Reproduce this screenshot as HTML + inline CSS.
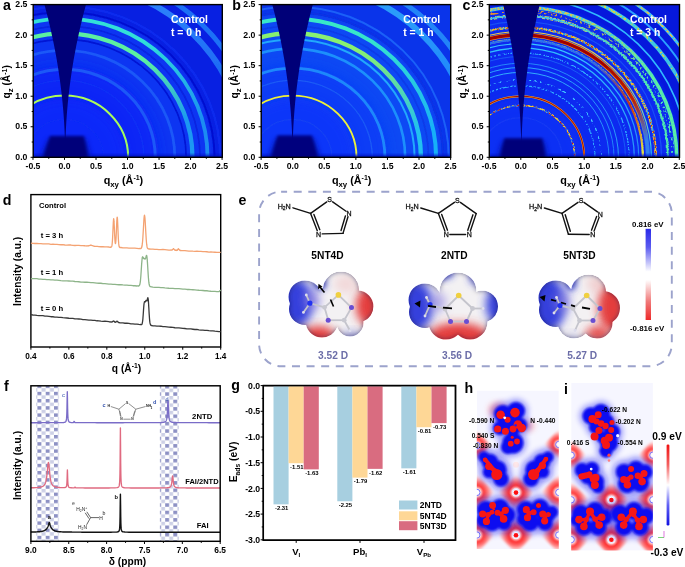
<!DOCTYPE html>
<html><head><meta charset="utf-8"><style>html,body{margin:0;padding:0;background:#fff;overflow:hidden}svg{display:block;will-change:transform}text{font-family:"Liberation Sans", sans-serif}</style></head>
<body><svg width="685" height="567" viewBox="0 0 685 567">
<defs>
<filter id="blur1" x="-20%" y="-20%" width="140%" height="140%"><feGaussianBlur stdDeviation="1.5"/></filter>
<filter id="blur06" x="-20%" y="-20%" width="140%" height="140%"><feGaussianBlur stdDeviation="0.9"/></filter>
<filter id="blur3" x="-50%" y="-50%" width="200%" height="200%"><feGaussianBlur stdDeviation="6"/></filter>
<filter id="blur05" x="-5%" y="-5%" width="110%" height="110%"><feGaussianBlur stdDeviation="0.45"/></filter>
<filter id="spk" x="-5%" y="-5%" width="110%" height="110%"><feTurbulence type="fractalNoise" baseFrequency="0.55" numOctaves="1" seed="7" result="n"/><feColorMatrix in="n" type="matrix" values="0 0 0 0 0  0 0 0 0 0  0 0 0 0 0  0 0 0 9 -4.0" result="m"/><feComposite in="SourceGraphic" in2="m" operator="in"/></filter>
<filter id="spk2" x="-5%" y="-5%" width="110%" height="110%"><feTurbulence type="fractalNoise" baseFrequency="0.45" numOctaves="1" seed="11" result="n"/><feColorMatrix in="n" type="matrix" values="0 0 0 0 0  0 0 0 0 0  0 0 0 0 0  0 0 0 9 -4.6" result="m"/><feComposite in="SourceGraphic" in2="m" operator="in"/></filter>
<filter id="blur3s" x="-20%" y="-20%" width="140%" height="140%"><feGaussianBlur stdDeviation="2.6"/></filter>
<filter id="blur2" x="-10%" y="-10%" width="120%" height="120%"><feGaussianBlur stdDeviation="2.2"/></filter>
</defs>
<clipPath id="clipa"><rect x="33.2" y="4.6" width="189.10000000000002" height="152.70000000000002"/></clipPath>
<g clip-path="url(#clipa)">
<rect x="33.2" y="4.6" width="189.10000000000002" height="152.70000000000002" fill="#0820e2"/>
<ellipse cx="64.5" cy="157.3" rx="148.76" ry="144.15" fill="#0a34f2" opacity="1" filter="url(#blur2)"/>
<ellipse cx="64.5" cy="157.3" rx="94.55" ry="91.62" fill="#0828f6" opacity="1" filter="url(#blur3)"/>
<ellipse cx="64.5" cy="157.3" rx="59.88" ry="58.03" fill="#0a2cfa" opacity="0.8" filter="url(#blur3)"/>
<g filter="url(#blur05)">
<ellipse cx="64.5" cy="157.3" rx="39.08" ry="37.87" fill="none" stroke="#0c2cf6" stroke-width="1.2" />
<linearGradient id="ga101018" gradientUnits="userSpaceOnUse" x1="0" y1="60" x2="0" y2="150"><stop offset="0" stop-color="#b8ff50"/><stop offset="1" stop-color="#a0f860"/></linearGradient>
<ellipse cx="64.5" cy="157.3" rx="63.66" ry="61.69" fill="none" stroke="url(#ga101018)" stroke-width="2.0" />
<ellipse cx="64.5" cy="157.3" rx="79.42" ry="76.96" fill="none" stroke="#0e30f6" stroke-width="1.4" />
<ellipse cx="64.5" cy="157.3" rx="90.77" ry="87.96" fill="none" stroke="#1a58f8" stroke-width="3.0" />
<ellipse cx="64.5" cy="157.3" rx="110.31" ry="106.89" fill="none" stroke="#1a58f8" stroke-width="2.8" />
<ellipse cx="64.5" cy="157.3" rx="121.65" ry="117.88" fill="none" stroke="#0614d4" stroke-width="1.6" />
<ellipse cx="64.5" cy="157.3" rx="135.52" ry="131.32" fill="none" stroke="#0824e0" stroke-width="1.6" />
<ellipse cx="64.5" cy="157.3" rx="150.02" ry="145.37" fill="none" stroke="#0610d0" stroke-width="2.0" />
<linearGradient id="ga202926" gradientUnits="userSpaceOnUse" x1="0" y1="60" x2="0" y2="120"><stop offset="0" stop-color="#5cf0a0"/><stop offset="1" stop-color="#1a98f2"/></linearGradient>
<ellipse cx="64.5" cy="157.3" rx="127.96" ry="123.99" fill="none" stroke="url(#ga202926)" stroke-width="4.3" />
<linearGradient id="ga227028" gradientUnits="userSpaceOnUse" x1="0" y1="40" x2="0" y2="120"><stop offset="0" stop-color="#30e0d8"/><stop offset="1" stop-color="#1a8cf2"/></linearGradient>
<ellipse cx="64.5" cy="157.3" rx="143.09" ry="138.65" fill="none" stroke="url(#ga227028)" stroke-width="3.8" />
<ellipse cx="64.5" cy="157.3" rx="155.69" ry="150.87" fill="none" stroke="#0c2cee" stroke-width="2.2" />
<linearGradient id="ga287031" gradientUnits="userSpaceOnUse" x1="0" y1="10" x2="0" y2="80"><stop offset="0" stop-color="#2a80fa"/><stop offset="1" stop-color="#1c68f4"/></linearGradient>
<ellipse cx="64.5" cy="157.3" rx="180.91" ry="175.30" fill="none" stroke="url(#ga287031)" stroke-width="6.0" />
<ellipse cx="64.5" cy="157.3" rx="194.14" ry="188.13" fill="none" stroke="#1c70f6" stroke-width="5.0" />
</g>
<rect x="33.2" y="154.70000000000002" width="189.10000000000002" height="4" fill="#0612c0" opacity="0.85" filter="url(#blur06)"/>
<polygon points="44.18,3.60 45.21,7.42 46.21,11.23 47.19,15.05 48.15,18.87 49.07,22.69 49.98,26.51 50.85,30.32 51.70,34.14 52.53,37.96 53.32,41.78 54.10,45.59 54.84,49.41 55.56,53.23 56.26,57.05 56.92,60.86 57.57,64.68 58.18,68.50 58.77,72.31 59.34,76.13 59.88,79.95 60.39,83.77 60.87,87.59 61.34,91.40 61.77,95.22 62.18,99.04 62.56,102.86 62.92,106.67 63.25,110.49 63.56,114.31 63.83,118.13 64.09,121.94 64.31,125.76 64.52,129.58 64.69,133.40 64.84,137.21 64.96,141.03 65.06,144.85 65.13,148.66 65.18,152.48 65.20,156.30 65.20,156.30 65.22,152.48 65.27,148.66 65.34,144.85 65.44,141.03 65.56,137.21 65.71,133.40 65.88,129.58 66.09,125.76 66.31,121.94 66.57,118.13 66.84,114.31 67.15,110.49 67.48,106.67 67.84,102.86 68.22,99.04 68.63,95.22 69.06,91.40 69.53,87.59 70.01,83.77 70.52,79.95 71.06,76.13 71.63,72.31 72.22,68.50 72.83,64.68 73.48,60.86 74.14,57.05 74.84,53.23 75.56,49.41 76.30,45.59 77.08,41.78 77.87,37.96 78.70,34.14 79.55,30.32 80.42,26.51 81.33,22.69 82.25,18.87 83.21,15.05 84.19,11.23 85.19,7.42 86.22,3.60" fill="#000078"/>
<polygon points="39.5,159.3 48.0,139.0 86.0,139.0 91.5,159.3" fill="#0612b0" opacity="0.8" filter="url(#blur3s)"/>
<polygon points="42.5,159.3 50.0,136.0 84.0,136.0 88.5,159.3" fill="#00007a" filter="url(#blur1)"/>
</g>
<rect x="33.2" y="4.6" width="189.10000000000002" height="152.70000000000002" fill="none" stroke="#000" stroke-width="1.4"/>
<line x1="32.98" y1="157.30" x2="32.98" y2="159.90" stroke="#000" stroke-width="1" />
<line x1="48.74" y1="157.30" x2="48.74" y2="158.80" stroke="#000" stroke-width="1" />
<line x1="64.50" y1="157.30" x2="64.50" y2="159.90" stroke="#000" stroke-width="1" />
<line x1="80.26" y1="157.30" x2="80.26" y2="158.80" stroke="#000" stroke-width="1" />
<line x1="96.02" y1="157.30" x2="96.02" y2="159.90" stroke="#000" stroke-width="1" />
<line x1="111.78" y1="157.30" x2="111.78" y2="158.80" stroke="#000" stroke-width="1" />
<line x1="127.53" y1="157.30" x2="127.53" y2="159.90" stroke="#000" stroke-width="1" />
<line x1="143.29" y1="157.30" x2="143.29" y2="158.80" stroke="#000" stroke-width="1" />
<line x1="159.05" y1="157.30" x2="159.05" y2="159.90" stroke="#000" stroke-width="1" />
<line x1="174.81" y1="157.30" x2="174.81" y2="158.80" stroke="#000" stroke-width="1" />
<line x1="190.57" y1="157.30" x2="190.57" y2="159.90" stroke="#000" stroke-width="1" />
<line x1="206.33" y1="157.30" x2="206.33" y2="158.80" stroke="#000" stroke-width="1" />
<line x1="222.08" y1="157.30" x2="222.08" y2="159.90" stroke="#000" stroke-width="1" />
<line x1="30.60" y1="157.30" x2="33.20" y2="157.30" stroke="#000" stroke-width="1" />
<line x1="31.70" y1="142.03" x2="33.20" y2="142.03" stroke="#000" stroke-width="1" />
<line x1="30.60" y1="126.76" x2="33.20" y2="126.76" stroke="#000" stroke-width="1" />
<line x1="31.70" y1="111.49" x2="33.20" y2="111.49" stroke="#000" stroke-width="1" />
<line x1="30.60" y1="96.22" x2="33.20" y2="96.22" stroke="#000" stroke-width="1" />
<line x1="31.70" y1="80.95" x2="33.20" y2="80.95" stroke="#000" stroke-width="1" />
<line x1="30.60" y1="65.68" x2="33.20" y2="65.68" stroke="#000" stroke-width="1" />
<line x1="31.70" y1="50.41" x2="33.20" y2="50.41" stroke="#000" stroke-width="1" />
<line x1="30.60" y1="35.14" x2="33.20" y2="35.14" stroke="#000" stroke-width="1" />
<line x1="31.70" y1="19.87" x2="33.20" y2="19.87" stroke="#000" stroke-width="1" />
<line x1="30.60" y1="4.60" x2="33.20" y2="4.60" stroke="#000" stroke-width="1" />
<text x="32.98" y="169.20" font-size="8.7" font-weight="bold" fill="#000" text-anchor="middle" >-0.5</text>
<text x="64.50" y="169.20" font-size="8.7" font-weight="bold" fill="#000" text-anchor="middle" >0.0</text>
<text x="96.02" y="169.20" font-size="8.7" font-weight="bold" fill="#000" text-anchor="middle" >0.5</text>
<text x="127.53" y="169.20" font-size="8.7" font-weight="bold" fill="#000" text-anchor="middle" >1.0</text>
<text x="159.05" y="169.20" font-size="8.7" font-weight="bold" fill="#000" text-anchor="middle" >1.5</text>
<text x="190.57" y="169.20" font-size="8.7" font-weight="bold" fill="#000" text-anchor="middle" >2.0</text>
<text x="222.08" y="169.20" font-size="8.7" font-weight="bold" fill="#000" text-anchor="middle" >2.5</text>
<text x="27.40" y="159.90" font-size="8.7" font-weight="bold" fill="#000" text-anchor="end" >0.0</text>
<text x="27.40" y="129.36" font-size="8.7" font-weight="bold" fill="#000" text-anchor="end" >0.5</text>
<text x="27.40" y="98.82" font-size="8.7" font-weight="bold" fill="#000" text-anchor="end" >1.0</text>
<text x="27.40" y="68.28" font-size="8.7" font-weight="bold" fill="#000" text-anchor="end" >1.5</text>
<text x="27.40" y="37.74" font-size="8.7" font-weight="bold" fill="#000" text-anchor="end" >2.0</text>
<text x="27.40" y="7.20" font-size="8.7" font-weight="bold" fill="#000" text-anchor="end" >2.5</text>
<text x="123.45" y="183.90" font-size="10.8" font-weight="bold" text-anchor="middle">q<tspan font-size="7.8" dy="2.6">xy</tspan><tspan dy="-2.6"> (Å</tspan><tspan font-size="7" dy="-3.6">-1</tspan><tspan dy="3.6">)</tspan></text>
<text transform="translate(10.20,81.85) rotate(-90)" x="0" y="0" font-size="10.2" font-weight="bold" text-anchor="middle">q<tspan font-size="7.8" dy="2.6">z</tspan><tspan dy="-2.6"> (Å</tspan><tspan font-size="7" dy="-3.6">-1</tspan><tspan dy="3.6">)</tspan></text>
<text x="171.00" y="23.00" font-size="10.4" font-weight="bold" fill="#fff" text-anchor="start" >Control</text>
<text x="171.00" y="35.70" font-size="10.4" font-weight="bold" fill="#fff" text-anchor="start" >t = 0 h</text>
<clipPath id="clipb"><rect x="261.2" y="4.6" width="189.5" height="152.70000000000002"/></clipPath>
<g clip-path="url(#clipb)">
<rect x="261.2" y="4.6" width="189.5" height="152.70000000000002" fill="#0a34ea"/>
<ellipse cx="292.7" cy="157.3" rx="149.07" ry="144.15" fill="#0c48f4" opacity="1" filter="url(#blur2)"/>
<ellipse cx="292.7" cy="157.3" rx="94.75" ry="91.62" fill="#0a3cf6" opacity="1" filter="url(#blur3)"/>
<ellipse cx="292.7" cy="157.3" rx="60.01" ry="58.03" fill="#0c34fa" opacity="0.8" filter="url(#blur3)"/>
<g filter="url(#blur05)">
<ellipse cx="292.7" cy="157.3" rx="39.16" ry="37.87" fill="none" stroke="#1440f4" stroke-width="1.2" />
<linearGradient id="gb101090" gradientUnits="userSpaceOnUse" x1="0" y1="60" x2="0" y2="150"><stop offset="0" stop-color="#f4f030"/><stop offset="1" stop-color="#e8f040"/></linearGradient>
<ellipse cx="292.7" cy="157.3" rx="63.80" ry="61.69" fill="none" stroke="url(#gb101090)" stroke-width="1.9" />
<ellipse cx="292.7" cy="157.3" rx="79.59" ry="76.96" fill="none" stroke="#1a5af6" stroke-width="1.3" />
<ellipse cx="292.7" cy="157.3" rx="92.22" ry="89.18" fill="none" stroke="#1c88fc" stroke-width="2.8" />
<ellipse cx="292.7" cy="157.3" rx="112.44" ry="108.72" fill="none" stroke="#1c90fc" stroke-width="2.6" />
<ellipse cx="292.7" cy="157.3" rx="121.91" ry="117.88" fill="none" stroke="#20a8fc" stroke-width="2.0" />
<ellipse cx="292.7" cy="157.3" rx="135.81" ry="131.32" fill="none" stroke="#0c3ae8" stroke-width="1.6" />
<ellipse cx="292.7" cy="157.3" rx="150.34" ry="145.37" fill="none" stroke="#0a30e4" stroke-width="2.0" />
<linearGradient id="gb202998" gradientUnits="userSpaceOnUse" x1="0" y1="50" x2="0" y2="130"><stop offset="0" stop-color="#88f070"/><stop offset="1" stop-color="#20c0f0"/></linearGradient>
<ellipse cx="292.7" cy="157.3" rx="128.23" ry="123.99" fill="none" stroke="url(#gb202998)" stroke-width="4.4" />
<linearGradient id="gb2270100" gradientUnits="userSpaceOnUse" x1="0" y1="30" x2="0" y2="130"><stop offset="0" stop-color="#38e8c8"/><stop offset="1" stop-color="#18b0f8"/></linearGradient>
<ellipse cx="292.7" cy="157.3" rx="143.39" ry="138.65" fill="none" stroke="url(#gb2270100)" stroke-width="4.0" />
<ellipse cx="292.7" cy="157.3" rx="156.02" ry="150.87" fill="none" stroke="#1a60f8" stroke-width="2.0" />
<linearGradient id="gb2870103" gradientUnits="userSpaceOnUse" x1="0" y1="20" x2="0" y2="100"><stop offset="0" stop-color="#2a9cfa"/><stop offset="1" stop-color="#1c80fc"/></linearGradient>
<ellipse cx="292.7" cy="157.3" rx="181.29" ry="175.30" fill="none" stroke="url(#gb2870103)" stroke-width="6.0" />
<ellipse cx="292.7" cy="157.3" rx="194.55" ry="188.13" fill="none" stroke="#2484f8" stroke-width="5.0" />
</g>
<rect x="261.2" y="154.70000000000002" width="189.5" height="4" fill="#0612c0" opacity="0.85" filter="url(#blur06)"/>
<polygon points="272.03,3.60 273.04,7.42 274.02,11.23 274.98,15.05 275.91,18.87 276.81,22.69 277.69,26.51 278.55,30.32 279.38,34.14 280.18,37.96 280.96,41.78 281.71,45.59 282.44,49.41 283.14,53.23 283.82,57.05 284.47,60.86 285.10,64.68 285.70,68.50 286.28,72.31 286.83,76.13 287.35,79.95 287.85,83.77 288.33,87.59 288.78,91.40 289.20,95.22 289.60,99.04 289.98,102.86 290.32,106.67 290.65,110.49 290.94,114.31 291.22,118.13 291.46,121.94 291.69,125.76 291.88,129.58 292.05,133.40 292.20,137.21 292.32,141.03 292.42,144.85 292.49,148.66 292.53,152.48 292.55,156.30 292.55,156.30 292.57,152.48 292.61,148.66 292.68,144.85 292.78,141.03 292.90,137.21 293.05,133.40 293.22,129.58 293.41,125.76 293.64,121.94 293.88,118.13 294.16,114.31 294.45,110.49 294.78,106.67 295.12,102.86 295.50,99.04 295.90,95.22 296.32,91.40 296.77,87.59 297.25,83.77 297.75,79.95 298.27,76.13 298.82,72.31 299.40,68.50 300.00,64.68 300.63,60.86 301.28,57.05 301.96,53.23 302.66,49.41 303.39,45.59 304.14,41.78 304.92,37.96 305.72,34.14 306.55,30.32 307.41,26.51 308.29,22.69 309.19,18.87 310.12,15.05 311.08,11.23 312.06,7.42 313.07,3.60" fill="#000078"/>
<polygon points="267.5,159.3 275.5,138.5 314,138.5 321.5,159.3" fill="#0612b0" opacity="0.8" filter="url(#blur3s)"/>
<polygon points="270.5,159.3 277.5,135.5 312,135.5 318.5,159.3" fill="#02027e" filter="url(#blur1)"/>
</g>
<rect x="261.2" y="4.6" width="189.5" height="152.70000000000002" fill="none" stroke="#000" stroke-width="1.4"/>
<line x1="261.12" y1="157.30" x2="261.12" y2="159.90" stroke="#000" stroke-width="1" />
<line x1="276.91" y1="157.30" x2="276.91" y2="158.80" stroke="#000" stroke-width="1" />
<line x1="292.70" y1="157.30" x2="292.70" y2="159.90" stroke="#000" stroke-width="1" />
<line x1="308.49" y1="157.30" x2="308.49" y2="158.80" stroke="#000" stroke-width="1" />
<line x1="324.28" y1="157.30" x2="324.28" y2="159.90" stroke="#000" stroke-width="1" />
<line x1="340.07" y1="157.30" x2="340.07" y2="158.80" stroke="#000" stroke-width="1" />
<line x1="355.87" y1="157.30" x2="355.87" y2="159.90" stroke="#000" stroke-width="1" />
<line x1="371.66" y1="157.30" x2="371.66" y2="158.80" stroke="#000" stroke-width="1" />
<line x1="387.45" y1="157.30" x2="387.45" y2="159.90" stroke="#000" stroke-width="1" />
<line x1="403.24" y1="157.30" x2="403.24" y2="158.80" stroke="#000" stroke-width="1" />
<line x1="419.03" y1="157.30" x2="419.03" y2="159.90" stroke="#000" stroke-width="1" />
<line x1="434.82" y1="157.30" x2="434.82" y2="158.80" stroke="#000" stroke-width="1" />
<line x1="450.62" y1="157.30" x2="450.62" y2="159.90" stroke="#000" stroke-width="1" />
<line x1="258.60" y1="157.30" x2="261.20" y2="157.30" stroke="#000" stroke-width="1" />
<line x1="259.70" y1="142.03" x2="261.20" y2="142.03" stroke="#000" stroke-width="1" />
<line x1="258.60" y1="126.76" x2="261.20" y2="126.76" stroke="#000" stroke-width="1" />
<line x1="259.70" y1="111.49" x2="261.20" y2="111.49" stroke="#000" stroke-width="1" />
<line x1="258.60" y1="96.22" x2="261.20" y2="96.22" stroke="#000" stroke-width="1" />
<line x1="259.70" y1="80.95" x2="261.20" y2="80.95" stroke="#000" stroke-width="1" />
<line x1="258.60" y1="65.68" x2="261.20" y2="65.68" stroke="#000" stroke-width="1" />
<line x1="259.70" y1="50.41" x2="261.20" y2="50.41" stroke="#000" stroke-width="1" />
<line x1="258.60" y1="35.14" x2="261.20" y2="35.14" stroke="#000" stroke-width="1" />
<line x1="259.70" y1="19.87" x2="261.20" y2="19.87" stroke="#000" stroke-width="1" />
<line x1="258.60" y1="4.60" x2="261.20" y2="4.60" stroke="#000" stroke-width="1" />
<text x="261.12" y="169.20" font-size="8.7" font-weight="bold" fill="#000" text-anchor="middle" >-0.5</text>
<text x="292.70" y="169.20" font-size="8.7" font-weight="bold" fill="#000" text-anchor="middle" >0.0</text>
<text x="324.28" y="169.20" font-size="8.7" font-weight="bold" fill="#000" text-anchor="middle" >0.5</text>
<text x="355.87" y="169.20" font-size="8.7" font-weight="bold" fill="#000" text-anchor="middle" >1.0</text>
<text x="387.45" y="169.20" font-size="8.7" font-weight="bold" fill="#000" text-anchor="middle" >1.5</text>
<text x="419.03" y="169.20" font-size="8.7" font-weight="bold" fill="#000" text-anchor="middle" >2.0</text>
<text x="450.62" y="169.20" font-size="8.7" font-weight="bold" fill="#000" text-anchor="middle" >2.5</text>
<text x="255.40" y="159.90" font-size="8.7" font-weight="bold" fill="#000" text-anchor="end" >0.0</text>
<text x="255.40" y="129.36" font-size="8.7" font-weight="bold" fill="#000" text-anchor="end" >0.5</text>
<text x="255.40" y="98.82" font-size="8.7" font-weight="bold" fill="#000" text-anchor="end" >1.0</text>
<text x="255.40" y="68.28" font-size="8.7" font-weight="bold" fill="#000" text-anchor="end" >1.5</text>
<text x="255.40" y="37.74" font-size="8.7" font-weight="bold" fill="#000" text-anchor="end" >2.0</text>
<text x="255.40" y="7.20" font-size="8.7" font-weight="bold" fill="#000" text-anchor="end" >2.5</text>
<text x="351.65" y="183.90" font-size="10.8" font-weight="bold" text-anchor="middle">q<tspan font-size="7.8" dy="2.6">xy</tspan><tspan dy="-2.6"> (Å</tspan><tspan font-size="7" dy="-3.6">-1</tspan><tspan dy="3.6">)</tspan></text>
<text transform="translate(238.20,81.85) rotate(-90)" x="0" y="0" font-size="10.2" font-weight="bold" text-anchor="middle">q<tspan font-size="7.8" dy="2.6">z</tspan><tspan dy="-2.6"> (Å</tspan><tspan font-size="7" dy="-3.6">-1</tspan><tspan dy="3.6">)</tspan></text>
<text x="403.20" y="23.00" font-size="10.4" font-weight="bold" fill="#fff" text-anchor="start" >Control</text>
<text x="403.20" y="35.70" font-size="10.4" font-weight="bold" fill="#fff" text-anchor="start" >t = 1 h</text>
<clipPath id="clipc"><rect x="489.3" y="4.6" width="190.2" height="152.70000000000002"/></clipPath>
<g clip-path="url(#clipc)">
<rect x="489.3" y="4.6" width="190.2" height="152.70000000000002" fill="#0618dc"/>
<ellipse cx="520.8" cy="157.3" rx="158.50" ry="152.70" fill="#0a2af0" opacity="1" filter="url(#blur2)"/>
<ellipse cx="520.8" cy="157.3" rx="60.23" ry="58.03" fill="#0c30f6" opacity="0.8" filter="url(#blur3)"/>
<g filter="url(#blur05)">
<ellipse cx="520.8" cy="157.3" rx="41.21" ry="39.70" fill="none" stroke="#1438f4" stroke-width="1.4" />
<ellipse cx="520.8" cy="157.3" rx="53.89" ry="51.92" fill="none" stroke="#2a80f4" stroke-width="1.0" />
<ellipse cx="520.8" cy="157.3" rx="53.89" ry="51.92" fill="none" stroke="#f0d030" stroke-width="1.6" filter="url(#spk)"/>
<ellipse cx="520.8" cy="157.3" rx="53.89" ry="51.92" fill="none" stroke="#d01010" stroke-width="1.0" filter="url(#spk2)"/>
<ellipse cx="520.8" cy="157.3" rx="63.40" ry="61.08" fill="none" stroke="#f0b020" stroke-width="2.0" />
<ellipse cx="520.8" cy="157.3" rx="63.40" ry="61.08" fill="none" stroke="#b00800" stroke-width="1.1" />
<ellipse cx="520.8" cy="157.3" rx="74.18" ry="71.46" fill="none" stroke="#30b0ff" stroke-width="1.3" filter="url(#spk)"/>
<ellipse cx="520.8" cy="157.3" rx="80.52" ry="77.57" fill="none" stroke="#40c8ff" stroke-width="1.3" filter="url(#spk2)"/>
<linearGradient id="gc1390168" gradientUnits="userSpaceOnUse" x1="0" y1="40" x2="0" y2="150"><stop offset="0" stop-color="#38c0ff"/><stop offset="1" stop-color="#2080f8"/></linearGradient>
<ellipse cx="520.8" cy="157.3" rx="88.13" ry="84.90" fill="none" stroke="url(#gc1390168)" stroke-width="1.0" />
<linearGradient id="gc1470170" gradientUnits="userSpaceOnUse" x1="0" y1="40" x2="0" y2="150"><stop offset="0" stop-color="#30b0ff"/><stop offset="1" stop-color="#2080f8"/></linearGradient>
<ellipse cx="520.8" cy="157.3" rx="93.20" ry="89.79" fill="none" stroke="url(#gc1470170)" stroke-width="1.0" />
<linearGradient id="gc1540172" gradientUnits="userSpaceOnUse" x1="0" y1="40" x2="0" y2="150"><stop offset="0" stop-color="#2480fa"/><stop offset="1" stop-color="#28a0f8"/></linearGradient>
<ellipse cx="520.8" cy="157.3" rx="97.64" ry="94.06" fill="none" stroke="url(#gc1540172)" stroke-width="1.0" />
<ellipse cx="520.8" cy="157.3" rx="104.61" ry="100.78" fill="none" stroke="#1a60f6" stroke-width="0.9" />
<ellipse cx="520.8" cy="157.3" rx="108.41" ry="104.45" fill="none" stroke="#30b0ff" stroke-width="1.3" filter="url(#spk)"/>
<linearGradient id="gc1790176" gradientUnits="userSpaceOnUse" x1="0" y1="30" x2="0" y2="150"><stop offset="0" stop-color="#30c8ff"/><stop offset="1" stop-color="#2898f8"/></linearGradient>
<ellipse cx="520.8" cy="157.3" rx="113.49" ry="109.33" fill="none" stroke="url(#gc1790176)" stroke-width="1.2" />
<linearGradient id="gc1860178" gradientUnits="userSpaceOnUse" x1="0" y1="30" x2="0" y2="150"><stop offset="0" stop-color="#38d0ff"/><stop offset="1" stop-color="#2488f8"/></linearGradient>
<ellipse cx="520.8" cy="157.3" rx="117.92" ry="113.61" fill="none" stroke="url(#gc1860178)" stroke-width="1.2" />
<ellipse cx="520.8" cy="157.3" rx="122.36" ry="117.88" fill="none" stroke="#30b0f0" stroke-width="1.2" />
<linearGradient id="gc1930181" gradientUnits="userSpaceOnUse" x1="0" y1="40" x2="0" y2="150"><stop offset="0" stop-color="#f0e040"/><stop offset="1" stop-color="#e8c040"/></linearGradient>
<ellipse cx="520.8" cy="157.3" rx="122.36" ry="117.88" fill="none" stroke="url(#gc1930181)" stroke-width="2.0" filter="url(#spk)"/>
<linearGradient id="gc1925183" gradientUnits="userSpaceOnUse" x1="0" y1="60" x2="0" y2="150"><stop offset="0" stop-color="#2a70f0"/><stop offset="0.5" stop-color="#c83010"/><stop offset="1" stop-color="#e0e040"/></linearGradient>
<ellipse cx="520.8" cy="157.3" rx="122.05" ry="117.58" fill="none" stroke="url(#gc1925183)" stroke-width="2.0" />
<linearGradient id="gc2005185" gradientUnits="userSpaceOnUse" x1="0" y1="60" x2="0" y2="140"><stop offset="0" stop-color="#f0a020"/><stop offset="0.5" stop-color="#e0b030"/><stop offset="1" stop-color="#2a70f0"/></linearGradient>
<ellipse cx="520.8" cy="157.3" rx="127.12" ry="122.47" fill="none" stroke="url(#gc2005185)" stroke-width="4.4" />
<linearGradient id="gc2005187" gradientUnits="userSpaceOnUse" x1="0" y1="60" x2="0" y2="140"><stop offset="0" stop-color="#a00000"/><stop offset="0.5" stop-color="#c02008"/><stop offset="1" stop-color="#3080f0"/></linearGradient>
<ellipse cx="520.8" cy="157.3" rx="127.12" ry="122.47" fill="none" stroke="url(#gc2005187)" stroke-width="3.1" />
<linearGradient id="gc2060189" gradientUnits="userSpaceOnUse" x1="0" y1="60" x2="0" y2="150"><stop offset="0" stop-color="#f0d040"/><stop offset="1" stop-color="#30c8f0"/></linearGradient>
<ellipse cx="520.8" cy="157.3" rx="130.60" ry="125.82" fill="none" stroke="url(#gc2060189)" stroke-width="1.2" />
<ellipse cx="520.8" cy="157.3" rx="135.04" ry="130.10" fill="none" stroke="#30b0f0" stroke-width="1.6" />
<ellipse cx="520.8" cy="157.3" rx="135.04" ry="130.10" fill="none" stroke="#f0c030" stroke-width="2.6" filter="url(#spk)"/>
<ellipse cx="520.8" cy="157.3" rx="135.04" ry="130.10" fill="none" stroke="#c03010" stroke-width="1.4" filter="url(#spk2)"/>
<ellipse cx="520.8" cy="157.3" rx="140.75" ry="135.60" fill="none" stroke="#1a50f4" stroke-width="1.2" />
<linearGradient id="gc2320195" gradientUnits="userSpaceOnUse" x1="549.3" y1="0" x2="639.3" y2="100"><stop offset="0" stop-color="#f0d040"/><stop offset="1" stop-color="#40e8b0"/></linearGradient>
<ellipse cx="520.8" cy="157.3" rx="147.09" ry="141.71" fill="none" stroke="url(#gc2320195)" stroke-width="3.2" filter="url(#spk)"/>
<linearGradient id="gc2320197" gradientUnits="userSpaceOnUse" x1="549.3" y1="0" x2="639.3" y2="100"><stop offset="0" stop-color="#40c0f0"/><stop offset="1" stop-color="#50e8b0"/></linearGradient>
<ellipse cx="520.8" cy="157.3" rx="147.09" ry="141.71" fill="none" stroke="url(#gc2320197)" stroke-width="1.6" />
<linearGradient id="gc2400199" gradientUnits="userSpaceOnUse" x1="549.3" y1="0" x2="639.3" y2="100"><stop offset="0" stop-color="#e09030"/><stop offset="1" stop-color="#48e0b8"/></linearGradient>
<ellipse cx="520.8" cy="157.3" rx="152.16" ry="146.59" fill="none" stroke="url(#gc2400199)" stroke-width="3.0" filter="url(#spk2)"/>
<linearGradient id="gc2460201" gradientUnits="userSpaceOnUse" x1="549.3" y1="0" x2="639.3" y2="100"><stop offset="0" stop-color="#40c0f0"/><stop offset="1" stop-color="#50e8b0"/></linearGradient>
<ellipse cx="520.8" cy="157.3" rx="155.96" ry="150.26" fill="none" stroke="url(#gc2460201)" stroke-width="3.5" />
<linearGradient id="gc2460203" gradientUnits="userSpaceOnUse" x1="549.3" y1="0" x2="639.3" y2="100"><stop offset="0" stop-color="#f0c040"/><stop offset="1" stop-color="#60f0a0"/></linearGradient>
<ellipse cx="520.8" cy="157.3" rx="155.96" ry="150.26" fill="none" stroke="url(#gc2460203)" stroke-width="2.5" filter="url(#spk)"/>
<ellipse cx="520.8" cy="157.3" rx="166.11" ry="160.03" fill="none" stroke="#30b8ff" stroke-width="1.6" />
<linearGradient id="gc2800206" gradientUnits="userSpaceOnUse" x1="0" y1="10" x2="0" y2="120"><stop offset="0" stop-color="#40d0e0"/><stop offset="1" stop-color="#30b0f0"/></linearGradient>
<ellipse cx="520.8" cy="157.3" rx="177.52" ry="171.02" fill="none" stroke="url(#gc2800206)" stroke-width="3.5" />
<ellipse cx="520.8" cy="157.3" rx="177.52" ry="171.02" fill="none" stroke="#e0d040" stroke-width="2.0" filter="url(#spk2)"/>
<ellipse cx="520.8" cy="157.3" rx="187.03" ry="180.19" fill="none" stroke="#2aa0ff" stroke-width="2.0" />
<ellipse cx="520.8" cy="157.3" rx="196.54" ry="189.35" fill="none" stroke="#38c0ff" stroke-width="3.0" />
<ellipse cx="520.8" cy="157.3" rx="196.54" ry="189.35" fill="none" stroke="#f0c040" stroke-width="1.5" filter="url(#spk)"/>
</g>
<rect x="489.3" y="154.70000000000002" width="190.2" height="4" fill="#0612c0" opacity="0.85" filter="url(#blur06)"/>
<polygon points="502.86,3.60 503.77,7.42 504.66,11.23 505.52,15.05 506.36,18.87 507.18,22.69 507.97,26.51 508.75,30.32 509.50,34.14 510.22,37.96 510.93,41.78 511.61,45.59 512.26,49.41 512.90,53.23 513.51,57.05 514.10,60.86 514.67,64.68 515.21,68.50 515.73,72.31 516.23,76.13 516.70,79.95 517.16,83.77 517.59,87.59 517.99,91.40 518.38,95.22 518.74,99.04 519.07,102.86 519.39,106.67 519.68,110.49 519.95,114.31 520.20,118.13 520.42,121.94 520.62,125.76 520.80,129.58 520.95,133.40 521.08,137.21 521.19,141.03 521.28,144.85 521.34,148.66 521.38,152.48 521.40,156.30 521.40,156.30 521.42,152.48 521.46,148.66 521.52,144.85 521.61,141.03 521.72,137.21 521.85,133.40 522.00,129.58 522.18,125.76 522.38,121.94 522.60,118.13 522.85,114.31 523.12,110.49 523.41,106.67 523.73,102.86 524.06,99.04 524.42,95.22 524.81,91.40 525.21,87.59 525.64,83.77 526.10,79.95 526.57,76.13 527.07,72.31 527.59,68.50 528.13,64.68 528.70,60.86 529.29,57.05 529.90,53.23 530.54,49.41 531.19,45.59 531.87,41.78 532.58,37.96 533.30,34.14 534.05,30.32 534.83,26.51 535.62,22.69 536.44,18.87 537.28,15.05 538.14,11.23 539.03,7.42 539.94,3.60" fill="#000078"/>
<polygon points="496.5,159.3 502.3,141.3 544.3,141.3 549.0,159.3" fill="#0612b0" opacity="0.8" filter="url(#blur3s)"/>
<polygon points="499.5,159.3 504.3,138.3 542.3,138.3 546.0,159.3" fill="#00007a" filter="url(#blur1)"/>
</g>
<rect x="489.3" y="4.6" width="190.2" height="152.70000000000002" fill="none" stroke="#000" stroke-width="1.4"/>
<line x1="489.10" y1="157.30" x2="489.10" y2="159.90" stroke="#000" stroke-width="1" />
<line x1="504.95" y1="157.30" x2="504.95" y2="158.80" stroke="#000" stroke-width="1" />
<line x1="520.80" y1="157.30" x2="520.80" y2="159.90" stroke="#000" stroke-width="1" />
<line x1="536.65" y1="157.30" x2="536.65" y2="158.80" stroke="#000" stroke-width="1" />
<line x1="552.50" y1="157.30" x2="552.50" y2="159.90" stroke="#000" stroke-width="1" />
<line x1="568.35" y1="157.30" x2="568.35" y2="158.80" stroke="#000" stroke-width="1" />
<line x1="584.20" y1="157.30" x2="584.20" y2="159.90" stroke="#000" stroke-width="1" />
<line x1="600.05" y1="157.30" x2="600.05" y2="158.80" stroke="#000" stroke-width="1" />
<line x1="615.90" y1="157.30" x2="615.90" y2="159.90" stroke="#000" stroke-width="1" />
<line x1="631.75" y1="157.30" x2="631.75" y2="158.80" stroke="#000" stroke-width="1" />
<line x1="647.60" y1="157.30" x2="647.60" y2="159.90" stroke="#000" stroke-width="1" />
<line x1="663.45" y1="157.30" x2="663.45" y2="158.80" stroke="#000" stroke-width="1" />
<line x1="679.30" y1="157.30" x2="679.30" y2="159.90" stroke="#000" stroke-width="1" />
<line x1="486.70" y1="157.30" x2="489.30" y2="157.30" stroke="#000" stroke-width="1" />
<line x1="487.80" y1="142.03" x2="489.30" y2="142.03" stroke="#000" stroke-width="1" />
<line x1="486.70" y1="126.76" x2="489.30" y2="126.76" stroke="#000" stroke-width="1" />
<line x1="487.80" y1="111.49" x2="489.30" y2="111.49" stroke="#000" stroke-width="1" />
<line x1="486.70" y1="96.22" x2="489.30" y2="96.22" stroke="#000" stroke-width="1" />
<line x1="487.80" y1="80.95" x2="489.30" y2="80.95" stroke="#000" stroke-width="1" />
<line x1="486.70" y1="65.68" x2="489.30" y2="65.68" stroke="#000" stroke-width="1" />
<line x1="487.80" y1="50.41" x2="489.30" y2="50.41" stroke="#000" stroke-width="1" />
<line x1="486.70" y1="35.14" x2="489.30" y2="35.14" stroke="#000" stroke-width="1" />
<line x1="487.80" y1="19.87" x2="489.30" y2="19.87" stroke="#000" stroke-width="1" />
<line x1="486.70" y1="4.60" x2="489.30" y2="4.60" stroke="#000" stroke-width="1" />
<text x="489.10" y="169.20" font-size="8.7" font-weight="bold" fill="#000" text-anchor="middle" >-0.5</text>
<text x="520.80" y="169.20" font-size="8.7" font-weight="bold" fill="#000" text-anchor="middle" >0.0</text>
<text x="552.50" y="169.20" font-size="8.7" font-weight="bold" fill="#000" text-anchor="middle" >0.5</text>
<text x="584.20" y="169.20" font-size="8.7" font-weight="bold" fill="#000" text-anchor="middle" >1.0</text>
<text x="615.90" y="169.20" font-size="8.7" font-weight="bold" fill="#000" text-anchor="middle" >1.5</text>
<text x="647.60" y="169.20" font-size="8.7" font-weight="bold" fill="#000" text-anchor="middle" >2.0</text>
<text x="679.30" y="169.20" font-size="8.7" font-weight="bold" fill="#000" text-anchor="middle" >2.5</text>
<text x="483.50" y="159.90" font-size="8.7" font-weight="bold" fill="#000" text-anchor="end" >0.0</text>
<text x="483.50" y="129.36" font-size="8.7" font-weight="bold" fill="#000" text-anchor="end" >0.5</text>
<text x="483.50" y="98.82" font-size="8.7" font-weight="bold" fill="#000" text-anchor="end" >1.0</text>
<text x="483.50" y="68.28" font-size="8.7" font-weight="bold" fill="#000" text-anchor="end" >1.5</text>
<text x="483.50" y="37.74" font-size="8.7" font-weight="bold" fill="#000" text-anchor="end" >2.0</text>
<text x="483.50" y="7.20" font-size="8.7" font-weight="bold" fill="#000" text-anchor="end" >2.5</text>
<text x="580.10" y="183.90" font-size="10.8" font-weight="bold" text-anchor="middle">q<tspan font-size="7.8" dy="2.6">xy</tspan><tspan dy="-2.6"> (Å</tspan><tspan font-size="7" dy="-3.6">-1</tspan><tspan dy="3.6">)</tspan></text>
<text transform="translate(466.30,81.85) rotate(-90)" x="0" y="0" font-size="10.2" font-weight="bold" text-anchor="middle">q<tspan font-size="7.8" dy="2.6">z</tspan><tspan dy="-2.6"> (Å</tspan><tspan font-size="7" dy="-3.6">-1</tspan><tspan dy="3.6">)</tspan></text>
<text x="630.00" y="23.00" font-size="10.4" font-weight="bold" fill="#fff" text-anchor="start" >Control</text>
<text x="630.00" y="35.70" font-size="10.4" font-weight="bold" fill="#fff" text-anchor="start" >t = 3 h</text>
<text x="3.00" y="9.90" font-size="14.2" font-weight="bold" fill="#000" text-anchor="start" >a</text>
<text x="232.20" y="9.90" font-size="14.2" font-weight="bold" fill="#000" text-anchor="start" >b</text>
<text x="462.40" y="9.90" font-size="14.2" font-weight="bold" fill="#000" text-anchor="start" >c</text>
<rect x="30.9" y="194.6" width="189.79999999999998" height="152.4" fill="none" stroke="#000" stroke-width="1.4"/>
<line x1="30.90" y1="347.00" x2="30.90" y2="349.70" stroke="#000" stroke-width="1" />
<line x1="49.88" y1="347.00" x2="49.88" y2="348.60" stroke="#000" stroke-width="1" />
<line x1="68.86" y1="347.00" x2="68.86" y2="349.70" stroke="#000" stroke-width="1" />
<line x1="87.84" y1="347.00" x2="87.84" y2="348.60" stroke="#000" stroke-width="1" />
<line x1="106.82" y1="347.00" x2="106.82" y2="349.70" stroke="#000" stroke-width="1" />
<line x1="125.80" y1="347.00" x2="125.80" y2="348.60" stroke="#000" stroke-width="1" />
<line x1="144.78" y1="347.00" x2="144.78" y2="349.70" stroke="#000" stroke-width="1" />
<line x1="163.76" y1="347.00" x2="163.76" y2="348.60" stroke="#000" stroke-width="1" />
<line x1="182.74" y1="347.00" x2="182.74" y2="349.70" stroke="#000" stroke-width="1" />
<line x1="201.72" y1="347.00" x2="201.72" y2="348.60" stroke="#000" stroke-width="1" />
<line x1="220.70" y1="347.00" x2="220.70" y2="349.70" stroke="#000" stroke-width="1" />
<text x="30.90" y="359.20" font-size="8.2" font-weight="bold" fill="#000" text-anchor="middle" >0.4</text>
<text x="68.86" y="359.20" font-size="8.2" font-weight="bold" fill="#000" text-anchor="middle" >0.6</text>
<text x="106.82" y="359.20" font-size="8.2" font-weight="bold" fill="#000" text-anchor="middle" >0.8</text>
<text x="144.78" y="359.20" font-size="8.2" font-weight="bold" fill="#000" text-anchor="middle" >1.0</text>
<text x="182.74" y="359.20" font-size="8.2" font-weight="bold" fill="#000" text-anchor="middle" >1.2</text>
<text x="220.70" y="359.20" font-size="8.2" font-weight="bold" fill="#000" text-anchor="middle" >1.4</text>
<text x="126.5" y="371.6" font-size="10.2" font-weight="bold" text-anchor="middle">q (Å<tspan font-size="6.8" dy="-3.6">-1</tspan><tspan dy="3.6">)</tspan></text>
<text transform="translate(21.2,271.4) rotate(-90)" font-size="10.2" font-weight="bold" text-anchor="middle">Intensity (a.u.)</text>
<text x="39.00" y="208.00" font-size="7.6" font-weight="bold" fill="#000" text-anchor="start" >Control</text>
<text x="40.80" y="237.90" font-size="7.7" font-weight="bold" fill="#000" text-anchor="start" >t = 3 h</text>
<text x="40.80" y="274.90" font-size="7.7" font-weight="bold" fill="#000" text-anchor="start" >t = 1 h</text>
<text x="40.80" y="310.90" font-size="7.7" font-weight="bold" fill="#000" text-anchor="start" >t = 0 h</text>
<polyline points="30.90,243.09 32.90,243.40 34.90,243.48 36.90,243.42 38.90,243.59 40.90,243.67 42.90,243.83 44.90,243.97 46.90,243.86 48.90,243.94 50.90,244.28 52.90,244.26 54.90,244.45 56.90,244.32 58.90,244.56 60.90,244.74 62.90,244.69 64.90,245.00 66.90,245.08 68.90,244.92 70.90,245.02 72.90,245.27 74.90,245.49 76.90,245.42 78.90,245.47 80.90,245.63 82.90,245.61 84.60,245.75 84.90,245.83 84.93,245.85 85.27,245.78 85.60,245.80 85.93,245.81 86.27,245.90 86.60,245.86 86.90,245.79 86.93,246.03 87.27,245.95 87.60,245.97 87.93,245.81 88.27,246.00 88.60,245.90 88.90,245.60 88.93,245.65 89.27,245.65 89.60,245.53 89.93,245.47 90.27,245.21 90.60,245.26 90.90,245.19 90.93,245.08 91.27,245.20 91.60,245.38 91.93,245.49 92.27,245.54 92.60,245.72 92.90,245.69 92.93,245.77 93.27,246.07 93.60,246.06 93.93,246.07 94.27,246.25 94.60,246.34 94.90,246.37 94.93,246.28 95.27,246.33 95.60,246.37 95.93,246.47 96.27,246.41 96.60,246.39 96.90,246.43 96.93,246.29 97.27,246.32 98.90,246.59 100.90,246.77 102.90,246.76 104.90,246.79 106.90,246.83 108.90,247.02 110.34,247.24 110.52,247.18 110.69,247.11 110.86,247.21 110.90,247.02 111.04,247.08 111.21,247.17 111.39,246.94 111.56,246.69 111.74,246.22 111.91,245.63 112.09,244.61 112.26,242.71 112.44,240.55 112.61,237.63 112.79,233.93 112.90,231.40 112.96,230.03 113.14,225.87 113.31,222.52 113.49,219.94 113.66,218.76 113.84,219.47 114.01,221.26 114.02,221.30 114.19,224.43 114.36,228.13 114.54,232.23 114.71,235.89 114.89,239.23 114.90,239.41 115.06,241.58 115.24,243.09 115.41,243.55 115.59,243.28 115.76,242.05 115.94,239.94 116.11,237.06 116.29,233.16 116.46,229.08 116.64,224.76 116.81,221.02 116.90,219.68 116.99,218.45 117.16,217.14 117.34,217.62 117.51,219.62 117.69,223.24 117.86,227.04 118.04,231.43 118.21,235.54 118.39,239.08 118.56,241.72 118.74,243.89 118.90,245.32 118.91,245.28 119.09,246.27 119.26,246.95 119.44,247.21 119.61,247.34 119.79,247.48 119.96,247.39 120.14,247.53 120.31,247.55 120.49,247.49 120.90,247.49 122.90,247.83 124.90,247.81 126.90,247.82 128.90,248.03 130.90,248.20 132.90,248.05 134.90,248.15 136.90,248.29 138.90,248.56 139.54,248.42 139.80,248.59 140.06,248.59 140.31,248.55 140.57,248.44 140.83,248.61 140.90,248.53 141.09,248.34 141.35,247.99 141.61,247.63 141.86,246.76 142.12,245.50 142.38,243.45 142.64,240.78 142.90,237.01 143.16,232.77 143.41,228.42 143.67,223.69 143.93,219.42 144.19,216.67 144.45,215.24 144.71,216.02 144.90,217.52 144.96,218.09 145.22,221.73 145.48,226.21 145.74,231.28 146.00,235.57 146.26,239.72 146.51,242.77 146.77,244.98 146.90,245.74 147.03,246.67 147.29,247.73 147.55,248.28 147.81,248.58 148.06,248.73 148.32,248.83 148.58,248.85 148.84,249.02 148.90,248.95 149.10,248.89 149.36,248.88 150.90,249.13 152.90,249.12 154.90,249.28 156.90,249.32 158.90,249.58 160.90,249.69 162.90,249.52 164.90,249.68 166.90,249.81 168.90,250.11 170.62,250.13 170.77,250.01 170.90,249.97 170.92,250.11 171.07,250.17 171.22,250.20 171.37,250.03 171.52,250.19 171.67,250.13 171.82,250.05 171.97,250.17 172.12,249.89 172.27,249.95 172.42,249.63 172.57,249.49 172.72,249.52 172.87,249.09 172.90,249.21 173.02,248.99 173.17,248.87 173.32,248.60 173.47,248.54 173.62,248.56 173.77,248.85 173.92,248.95 174.07,249.28 174.22,249.50 174.37,249.49 174.52,249.81 174.67,249.83 174.82,249.93 174.90,249.99 174.97,250.26 175.12,250.29 175.27,250.34 175.42,250.22 175.57,250.32 175.62,250.37 175.72,250.26 175.77,250.32 175.87,250.22 175.92,250.18 176.02,250.24 176.07,250.43 176.17,250.34 176.22,250.45 176.32,250.31 176.37,250.26 176.52,250.41 176.67,250.42 176.82,250.15 176.90,250.34 176.97,250.15 177.12,250.10 177.27,250.24 177.42,249.86 177.57,249.76 177.72,249.79 177.87,249.40 178.02,249.09 178.17,248.92 178.32,248.81 178.47,248.91 178.62,248.75 178.77,249.11 178.90,249.10 178.92,249.31 179.07,249.51 179.22,249.56 179.37,249.77 179.52,250.03 179.67,250.07 179.82,250.36 179.97,250.26 180.12,250.30 180.27,250.63 180.42,250.45 180.57,250.55 180.72,250.52 180.87,250.49 180.90,250.42 181.02,250.68 181.17,250.70 181.32,250.71 182.90,250.53 184.90,250.66 186.90,250.88 188.90,251.09 190.90,251.05 192.90,251.19 194.90,251.28 196.90,251.26 198.90,251.44 200.90,251.47 202.90,251.55 204.90,251.60 206.90,251.76 208.90,252.07 210.90,252.00 212.90,252.16 214.90,252.26 216.90,252.45 218.90,252.38 220.70,252.44" fill="none" stroke="#f4a272" stroke-width="1.3" stroke-linejoin="round" />
<polyline points="30.90,278.54 32.90,278.68 34.90,278.55 36.90,278.70 38.90,279.07 40.90,279.18 42.90,279.30 44.90,279.33 46.90,279.56 48.90,279.70 50.90,279.84 52.90,279.85 54.90,280.07 56.90,280.20 58.90,280.44 60.90,280.67 62.90,280.79 64.90,280.81 66.90,280.93 68.90,281.01 70.90,281.08 72.90,281.22 74.90,281.50 76.90,281.59 78.90,281.75 80.90,282.05 82.90,282.08 84.90,282.23 86.90,282.27 88.90,282.35 90.90,282.58 92.90,282.67 94.90,282.92 96.90,283.21 98.90,283.25 100.90,283.25 102.90,283.60 104.90,283.71 106.90,283.84 108.90,284.03 110.90,284.13 112.90,284.28 114.90,284.29 116.90,284.62 118.90,284.75 120.90,284.65 122.90,284.97 124.90,285.10 126.90,285.17 128.90,285.33 130.90,285.46 132.90,285.73 134.90,285.74 136.90,285.98 137.50,285.88 137.75,286.06 138.00,286.07 138.25,285.95 138.50,285.97 138.75,286.04 138.90,285.94 139.00,285.82 139.25,285.55 139.50,285.22 139.70,284.85 139.75,284.54 139.95,283.99 140.00,283.55 140.20,282.57 140.25,282.04 140.45,280.58 140.50,280.02 140.70,277.78 140.75,277.18 140.90,275.26 140.95,274.55 141.00,273.75 141.20,270.74 141.25,270.06 141.45,267.12 141.50,266.28 141.70,263.26 141.75,262.83 141.95,260.46 142.00,260.02 142.20,258.18 142.25,258.04 142.45,257.00 142.50,257.06 142.70,256.78 142.75,256.79 142.90,257.18 142.95,257.04 143.00,257.27 143.20,257.82 143.25,257.76 143.45,258.14 143.50,258.42 143.70,258.51 143.75,258.63 143.95,258.48 144.00,258.59 144.20,258.52 144.25,258.68 144.45,258.54 144.50,258.82 144.70,258.66 144.75,258.90 144.90,258.80 144.95,258.90 145.00,259.09 145.20,258.92 145.25,258.90 145.45,258.82 145.50,258.63 145.70,257.97 145.75,258.08 145.95,257.03 146.00,256.79 146.20,256.09 146.25,256.00 146.45,255.57 146.50,255.33 146.70,255.59 146.75,255.65 146.90,256.50 146.95,256.93 147.00,257.30 147.20,259.33 147.25,259.88 147.45,262.66 147.50,263.37 147.70,266.52 147.75,267.28 147.95,270.77 148.00,271.49 148.20,274.59 148.25,275.43 148.45,278.29 148.50,278.68 148.70,281.01 148.75,281.42 148.90,282.72 148.95,282.97 149.00,283.56 149.20,284.48 149.25,284.81 149.50,285.63 149.75,286.05 150.00,286.53 150.25,286.57 150.50,286.65 150.75,286.69 150.90,286.75 151.00,286.75 151.25,286.93 151.50,286.92 152.90,287.16 154.90,287.28 156.90,287.44 158.90,287.36 160.90,287.56 162.90,287.64 164.90,287.89 166.90,288.04 168.90,288.23 170.90,288.35 172.90,288.35 174.90,288.54 176.90,288.72 178.90,288.70 180.90,288.85 182.90,289.10 184.90,289.16 186.90,289.48 188.90,289.48 190.90,289.58 192.90,289.74 194.90,289.90 196.90,290.03 198.90,290.27 200.90,290.39 202.90,290.49 204.90,290.73 206.90,290.74 208.90,291.09 210.90,291.25 212.90,291.32 214.90,291.37 216.90,291.54 218.90,291.70 220.70,290.07" fill="none" stroke="#8db489" stroke-width="1.3" stroke-linejoin="round" />
<polyline points="30.90,314.72 32.90,314.99 34.90,315.12 36.90,315.37 38.90,315.55 40.90,315.56 42.90,315.72 44.90,316.15 46.90,316.15 48.90,316.32 50.90,316.73 52.90,316.75 54.90,317.04 56.90,317.11 58.90,317.33 60.90,317.37 62.90,317.69 64.90,317.94 66.90,318.01 68.90,318.26 70.90,318.41 72.90,318.41 74.90,318.80 76.90,318.92 78.90,319.01 80.90,319.11 82.90,319.54 84.90,319.60 86.90,319.85 88.90,320.08 90.90,320.21 92.90,320.45 94.90,320.47 96.90,320.77 98.90,320.84 100.90,321.16 102.90,321.32 104.90,321.27 106.90,321.46 108.90,321.66 110.30,322.01 110.47,321.87 110.63,321.94 110.80,321.85 110.90,321.92 110.97,321.89 111.13,321.89 111.30,321.97 111.47,321.98 111.63,322.07 111.80,321.99 111.97,322.03 112.13,321.96 112.30,321.91 112.47,321.70 112.63,321.41 112.80,321.47 112.90,321.40 112.97,321.32 113.13,321.10 113.30,321.05 113.47,320.87 113.63,321.09 113.80,321.11 113.97,321.17 114.13,321.27 114.30,321.70 114.47,321.92 114.63,321.79 114.80,322.13 114.90,322.07 114.97,322.02 115.13,322.12 115.30,322.28 115.47,322.30 115.63,322.01 115.80,322.10 115.97,321.82 116.13,321.89 116.30,321.62 116.47,321.63 116.63,321.53 116.80,321.30 116.90,321.42 116.97,321.21 117.13,321.17 117.30,321.43 117.47,321.41 117.63,321.62 117.80,321.88 117.97,322.12 118.13,322.13 118.30,322.22 118.47,322.57 118.63,322.47 118.80,322.72 118.90,322.72 118.97,322.58 119.13,322.63 119.30,322.67 119.47,322.73 119.63,322.73 119.80,322.73 119.97,322.77 120.13,322.88 120.90,322.82 122.90,322.97 124.90,323.24 126.90,323.27 128.90,323.47 130.90,323.85 132.90,323.89 134.90,324.07 136.90,324.09 138.90,324.39 140.36,324.57 140.56,324.42 140.76,324.61 140.90,324.62 140.96,324.45 141.16,324.62 141.36,324.55 141.56,324.55 141.76,324.31 141.96,324.14 142.16,323.67 142.36,322.67 142.56,321.52 142.76,320.06 142.90,318.70 142.96,317.80 143.16,315.27 143.36,312.43 143.56,309.41 143.76,306.71 143.84,305.74 143.96,304.50 144.06,303.71 144.16,302.94 144.27,302.42 144.36,302.24 144.49,301.78 144.56,301.90 144.71,301.97 144.76,301.87 144.90,301.92 144.92,302.10 144.96,301.94 145.14,301.88 145.16,301.94 145.36,301.73 145.56,301.10 145.57,301.14 145.76,300.74 145.79,300.83 145.96,300.51 146.01,300.61 146.16,300.42 146.22,300.52 146.36,300.77 146.44,300.95 146.56,300.96 146.66,300.96 146.76,300.93 146.87,300.96 146.90,300.81 146.96,300.87 147.09,300.49 147.16,300.03 147.31,299.38 147.36,299.30 147.52,298.51 147.56,298.40 147.74,297.73 147.76,297.64 147.96,297.80 148.16,298.94 148.17,298.85 148.36,300.71 148.39,301.10 148.56,303.44 148.61,304.22 148.76,306.85 148.82,307.65 148.90,309.00 148.96,310.33 149.04,311.69 149.16,313.73 149.26,315.14 149.36,316.77 149.47,318.24 149.56,319.12 149.69,320.65 149.76,321.32 149.91,322.44 150.12,323.60 150.34,324.35 150.56,324.87 150.77,325.11 150.90,325.18 150.99,325.39 151.21,325.39 151.42,325.60 151.64,325.40 151.86,325.69 152.07,325.65 152.90,325.79 154.90,325.96 156.90,326.14 158.90,326.22 160.90,326.23 162.90,326.63 164.90,326.63 166.90,326.85 168.90,327.14 170.90,327.27 172.90,327.42 174.90,327.75 176.90,327.83 178.90,327.93 180.90,328.08 182.90,328.44 184.90,328.51 186.90,328.78 188.90,328.82 190.90,328.96 192.90,329.24 194.90,329.50 196.90,329.48 198.90,329.85 200.90,330.06 202.90,330.21 204.90,330.39 206.90,330.32 208.90,330.69 210.90,330.94 212.90,330.87 214.90,331.11 216.90,331.29 218.90,331.55 220.70,331.68" fill="none" stroke="#383838" stroke-width="1.3" stroke-linejoin="round" />
<text x="2.80" y="204.90" font-size="14.2" font-weight="bold" fill="#000" text-anchor="start" >d</text>
<text x="238.40" y="205.20" font-size="14.2" font-weight="bold" fill="#000" text-anchor="start" >e</text>
<rect x="259.1" y="191.7" width="412.7" height="174.6" rx="22" ry="22" fill="none" stroke="#9ca3cc" stroke-width="1.9" stroke-dasharray="8 6.6" stroke-dashoffset="2"/>
<text x="329.70" y="202.32" font-size="7.0" font-weight="normal" fill="#111" text-anchor="middle" stroke="#111" stroke-width="0.3">S</text>
<text x="349.00" y="215.82" font-size="7.0" font-weight="normal" fill="#111" text-anchor="middle" stroke="#111" stroke-width="0.3">N</text>
<text x="318.60" y="236.52" font-size="7.0" font-weight="normal" fill="#111" text-anchor="middle" stroke="#111" stroke-width="0.3">N</text>
<text x="290.80" y="208.89" font-size="7.2" font-weight="normal" fill="#111" stroke="#111" stroke-width="0.3" text-anchor="end">H<tspan font-size="4.90" dy="1.6">2</tspan><tspan dy="-1.6">N</tspan></text>
<line x1="310.60" y1="213.40" x2="326.77" y2="201.89" stroke="#111" stroke-width="1.4" stroke-linecap="round"/>
<line x1="332.65" y1="201.86" x2="346.05" y2="211.24" stroke="#111" stroke-width="1.4" stroke-linecap="round"/>
<line x1="347.97" y1="216.75" x2="343.00" y2="233.40" stroke="#111" stroke-width="1.4" stroke-linecap="round"/>
<line x1="345.38" y1="215.98" x2="341.04" y2="230.52" stroke="#111" stroke-width="1.4" stroke-linecap="round"/>
<line x1="343.00" y1="233.40" x2="322.20" y2="233.91" stroke="#111" stroke-width="1.4" stroke-linecap="round"/>
<line x1="317.30" y1="230.64" x2="310.60" y2="213.40" stroke="#111" stroke-width="1.4" stroke-linecap="round"/>
<line x1="319.81" y1="229.67" x2="313.91" y2="214.47" stroke="#111" stroke-width="1.4" stroke-linecap="round"/>
<line x1="310.60" y1="213.40" x2="292.97" y2="207.81" stroke="#111" stroke-width="1.4" stroke-linecap="round"/>
<text x="457.40" y="202.82" font-size="7.0" font-weight="normal" fill="#111" text-anchor="middle" stroke="#111" stroke-width="0.3">S</text>
<text x="469.20" y="237.02" font-size="7.0" font-weight="normal" fill="#111" text-anchor="middle" stroke="#111" stroke-width="0.3">N</text>
<text x="446.20" y="237.02" font-size="7.0" font-weight="normal" fill="#111" text-anchor="middle" stroke="#111" stroke-width="0.3">N</text>
<text x="418.60" y="209.09" font-size="7.2" font-weight="normal" fill="#111" stroke="#111" stroke-width="0.3" text-anchor="end">H<tspan font-size="4.90" dy="1.6">2</tspan><tspan dy="-1.6">N</tspan></text>
<line x1="438.40" y1="213.40" x2="454.44" y2="202.34" stroke="#111" stroke-width="1.4" stroke-linecap="round"/>
<line x1="460.34" y1="202.38" x2="476.20" y2="213.60" stroke="#111" stroke-width="1.4" stroke-linecap="round"/>
<line x1="476.20" y1="213.60" x2="470.34" y2="231.09" stroke="#111" stroke-width="1.4" stroke-linecap="round"/>
<line x1="472.94" y1="214.83" x2="467.78" y2="230.23" stroke="#111" stroke-width="1.4" stroke-linecap="round"/>
<line x1="465.60" y1="234.50" x2="449.80" y2="234.50" stroke="#111" stroke-width="1.4" stroke-linecap="round"/>
<line x1="444.95" y1="231.12" x2="438.40" y2="213.40" stroke="#111" stroke-width="1.4" stroke-linecap="round"/>
<line x1="447.48" y1="230.19" x2="441.70" y2="214.53" stroke="#111" stroke-width="1.4" stroke-linecap="round"/>
<line x1="438.40" y1="213.40" x2="420.78" y2="207.97" stroke="#111" stroke-width="1.4" stroke-linecap="round"/>
<text x="581.00" y="202.82" font-size="7.0" font-weight="normal" fill="#111" text-anchor="middle" stroke="#111" stroke-width="0.3">S</text>
<text x="600.40" y="216.52" font-size="7.0" font-weight="normal" fill="#111" text-anchor="middle" stroke="#111" stroke-width="0.3">N</text>
<text x="592.80" y="237.02" font-size="7.0" font-weight="normal" fill="#111" text-anchor="middle" stroke="#111" stroke-width="0.3">N</text>
<text x="542.20" y="209.09" font-size="7.2" font-weight="normal" fill="#111" stroke="#111" stroke-width="0.3" text-anchor="end">H<tspan font-size="4.90" dy="1.6">2</tspan><tspan dy="-1.6">N</tspan></text>
<line x1="562.00" y1="213.40" x2="578.04" y2="202.34" stroke="#111" stroke-width="1.4" stroke-linecap="round"/>
<line x1="583.94" y1="202.38" x2="597.46" y2="211.92" stroke="#111" stroke-width="1.4" stroke-linecap="round"/>
<line x1="599.15" y1="217.38" x2="594.05" y2="231.12" stroke="#111" stroke-width="1.4" stroke-linecap="round"/>
<line x1="596.62" y1="216.44" x2="591.52" y2="230.19" stroke="#111" stroke-width="1.4" stroke-linecap="round"/>
<line x1="589.20" y1="234.46" x2="568.40" y2="234.20" stroke="#111" stroke-width="1.4" stroke-linecap="round"/>
<line x1="568.40" y1="234.20" x2="562.00" y2="213.40" stroke="#111" stroke-width="1.4" stroke-linecap="round"/>
<line x1="570.33" y1="231.30" x2="565.23" y2="214.71" stroke="#111" stroke-width="1.4" stroke-linecap="round"/>
<line x1="562.00" y1="213.40" x2="544.38" y2="207.97" stroke="#111" stroke-width="1.4" stroke-linecap="round"/>
<text x="327.50" y="259.30" font-size="10.2" font-weight="bold" fill="#000" text-anchor="middle" >5NT4D</text>
<text x="454.30" y="259.30" font-size="10.2" font-weight="bold" fill="#000" text-anchor="middle" >2NTD</text>
<text x="579.40" y="259.00" font-size="10.2" font-weight="bold" fill="#000" text-anchor="middle" >5NT3D</text>
<filter id="bl5" x="-50%" y="-50%" width="200%" height="200%"><feGaussianBlur stdDeviation="5"/></filter>
<filter id="bl3" x="-50%" y="-50%" width="200%" height="200%"><feGaussianBlur stdDeviation="3"/></filter>
<filter id="rim" x="-10%" y="-10%" width="120%" height="120%"><feGaussianBlur in="SourceAlpha" stdDeviation="2.6" result="b"/><feComposite in="SourceAlpha" in2="b" operator="arithmetic" k2="1" k3="-1" result="edge"/><feFlood flood-color="#101030" flood-opacity="0.55"/><feComposite in2="edge" operator="in"/></filter>
<filter id="soft" x="-10%" y="-10%" width="120%" height="120%"><feGaussianBlur stdDeviation="0.6"/></filter>
<clipPath id="esp1"><circle cx="305" cy="297" r="16.5"/><circle cx="305" cy="309" r="16"/><circle cx="322" cy="321" r="16.5"/><circle cx="341" cy="289.5" r="18"/><circle cx="357.4" cy="306.5" r="16"/><circle cx="350" cy="323" r="13.5"/><circle cx="333" cy="306" r="21"/></clipPath>
<g filter="url(#soft)">
<g clip-path="url(#esp1)">
<rect x="288.5" y="271.5" width="84.89999999999998" height="66.0" fill="#f3f1f3"/>
<ellipse cx="296" cy="303" rx="17" ry="24" fill="#3540dc" fill-opacity="1" filter="url(#bl5)"/>
<ellipse cx="312" cy="300" rx="8" ry="10" fill="#8a7ee0" fill-opacity="0.7" filter="url(#bl5)"/>
<ellipse cx="320" cy="284" rx="7" ry="6" fill="#3540dc" fill-opacity="0.8" filter="url(#bl3)"/>
<ellipse cx="368" cy="306" rx="12" ry="19" fill="#e43c3c" fill-opacity="1" filter="url(#bl5)"/>
<ellipse cx="318" cy="335" rx="17" ry="9" fill="#e43c3c" fill-opacity="1" filter="url(#bl5)"/>
<ellipse cx="352" cy="337" rx="10" ry="6" fill="#8c8cd4" fill-opacity="0.8" filter="url(#bl5)"/>
<ellipse cx="346" cy="284" rx="12" ry="9" fill="#f2c8c8" fill-opacity="0.6" filter="url(#bl5)"/>
</g>
<g filter="url(#rim)"><circle cx="305" cy="297" r="16.5" fill="#000"/><circle cx="305" cy="309" r="16" fill="#000"/><circle cx="322" cy="321" r="16.5" fill="#000"/><circle cx="341" cy="289.5" r="18" fill="#000"/><circle cx="357.4" cy="306.5" r="16" fill="#000"/><circle cx="350" cy="323" r="13.5" fill="#000"/><circle cx="333" cy="306" r="21" fill="#000"/></g>
</g>
<clipPath id="esp2"><circle cx="425" cy="300" r="16.5"/><circle cx="425" cy="312" r="16"/><circle cx="458" cy="291" r="18.5"/><circle cx="482" cy="306.5" r="16"/><circle cx="446" cy="322" r="17.5"/><circle cx="470" cy="322" r="17.5"/><circle cx="455" cy="308" r="21"/></clipPath>
<g filter="url(#soft)">
<g clip-path="url(#esp2)">
<rect x="408.5" y="272.5" width="89.5" height="67.0" fill="#f3f1f3"/>
<ellipse cx="416" cy="306" rx="17" ry="25" fill="#3540dc" fill-opacity="1" filter="url(#bl5)"/>
<ellipse cx="438" cy="302" rx="8" ry="10" fill="#8c7ee0" fill-opacity="0.6" filter="url(#bl5)"/>
<ellipse cx="496" cy="305" rx="10" ry="18" fill="#3540dc" fill-opacity="1" filter="url(#bl5)"/>
<ellipse cx="458" cy="336" rx="30" ry="13" fill="#e43c3c" fill-opacity="1" filter="url(#bl5)"/>
<ellipse cx="442" cy="274" rx="12" ry="6" fill="#3540dc" fill-opacity="0.7" filter="url(#bl3)"/>
<ellipse cx="476" cy="278" rx="8" ry="8" fill="#3540dc" fill-opacity="0.5" filter="url(#bl3)"/>
</g>
<g filter="url(#rim)"><circle cx="425" cy="300" r="16.5" fill="#000"/><circle cx="425" cy="312" r="16" fill="#000"/><circle cx="458" cy="291" r="18.5" fill="#000"/><circle cx="482" cy="306.5" r="16" fill="#000"/><circle cx="446" cy="322" r="17.5" fill="#000"/><circle cx="470" cy="322" r="17.5" fill="#000"/><circle cx="455" cy="308" r="21" fill="#000"/></g>
</g>
<clipPath id="esp3"><circle cx="556" cy="298" r="17.5"/><circle cx="556" cy="310" r="17"/><circle cx="588.5" cy="292" r="17.5"/><circle cx="603" cy="308" r="17"/><circle cx="574" cy="322" r="16.5"/><circle cx="597" cy="323" r="15.5"/><circle cx="580" cy="308" r="21"/></clipPath>
<g filter="url(#soft)">
<g clip-path="url(#esp3)">
<rect x="538.5" y="274.5" width="81.5" height="64.0" fill="#f3f1f3"/>
<ellipse cx="546" cy="304" rx="20" ry="28" fill="#3540dc" fill-opacity="1" filter="url(#bl5)"/>
<ellipse cx="562" cy="302" rx="8" ry="10" fill="#8a7ee0" fill-opacity="0.6" filter="url(#bl5)"/>
<ellipse cx="571" cy="283" rx="6" ry="8" fill="#3540dc" fill-opacity="0.8" filter="url(#bl3)"/>
<ellipse cx="612" cy="307" rx="14" ry="24" fill="#e43c3c" fill-opacity="1" filter="url(#bl5)"/>
<ellipse cx="598" cy="334" rx="12" ry="8" fill="#e43c3c" fill-opacity="0.9" filter="url(#bl5)"/>
<ellipse cx="572" cy="338" rx="6" ry="5" fill="#8888d0" fill-opacity="0.5" filter="url(#bl5)"/>
<ellipse cx="596" cy="284" rx="9" ry="8" fill="#f0b8b8" fill-opacity="0.6" filter="url(#bl5)"/>
</g>
<g filter="url(#rim)"><circle cx="556" cy="298" r="17.5" fill="#000"/><circle cx="556" cy="310" r="17" fill="#000"/><circle cx="588.5" cy="292" r="17.5" fill="#000"/><circle cx="603" cy="308" r="17" fill="#000"/><circle cx="574" cy="322" r="16.5" fill="#000"/><circle cx="597" cy="323" r="15.5" fill="#000"/><circle cx="580" cy="308" r="21" fill="#000"/></g>
</g>
<line x1="338.40" y1="294.90" x2="351.50" y2="307.60" stroke="#c4c4cc" stroke-width="1.8" />
<line x1="351.50" y1="307.60" x2="344.20" y2="320.20" stroke="#c4c4cc" stroke-width="1.8" />
<line x1="344.20" y1="320.20" x2="328.20" y2="320.20" stroke="#c4c4cc" stroke-width="1.8" />
<line x1="328.20" y1="320.20" x2="324.50" y2="307.30" stroke="#c4c4cc" stroke-width="1.8" />
<line x1="324.50" y1="307.30" x2="338.40" y2="294.90" stroke="#c4c4cc" stroke-width="1.8" />
<line x1="324.50" y1="307.30" x2="309.90" y2="303.20" stroke="#c4c4cc" stroke-width="1.8" />
<line x1="309.90" y1="303.20" x2="306.30" y2="295.00" stroke="#c4c4cc" stroke-width="1.8" />
<line x1="309.90" y1="303.20" x2="303.40" y2="312.40" stroke="#c4c4cc" stroke-width="1.8" />
<line x1="344.20" y1="320.20" x2="350.00" y2="330.70" stroke="#c4c4cc" stroke-width="1.8" />
<circle cx="338.4" cy="294.9" r="2.8" fill="#f0d040"/>
<circle cx="351.5" cy="307.6" r="2.5" fill="#6a4ed2"/>
<circle cx="344.2" cy="320.2" r="2.4" fill="#c8c8d0"/>
<circle cx="328.2" cy="320.2" r="2.5" fill="#6a4ed2"/>
<circle cx="324.5" cy="307.3" r="2.4" fill="#c8c8d0"/>
<circle cx="309.9" cy="303.2" r="2.6" fill="#2232f0"/>
<circle cx="306.3" cy="295.0" r="1.4" fill="#dcdcec"/>
<circle cx="303.4" cy="312.4" r="1.4" fill="#dcdcec"/>
<circle cx="350" cy="330.7" r="1.4" fill="#dcdcec"/>
<line x1="458.70" y1="295.50" x2="472.50" y2="308.50" stroke="#c4c4cc" stroke-width="1.8" />
<line x1="472.50" y1="308.50" x2="466.50" y2="321.50" stroke="#c4c4cc" stroke-width="1.8" />
<line x1="466.50" y1="321.50" x2="450.50" y2="321.50" stroke="#c4c4cc" stroke-width="1.8" />
<line x1="450.50" y1="321.50" x2="445.00" y2="309.00" stroke="#c4c4cc" stroke-width="1.8" />
<line x1="445.00" y1="309.00" x2="458.70" y2="295.50" stroke="#c4c4cc" stroke-width="1.8" />
<line x1="445.00" y1="309.00" x2="430.00" y2="304.50" stroke="#c4c4cc" stroke-width="1.8" />
<line x1="430.00" y1="304.50" x2="426.50" y2="297.50" stroke="#c4c4cc" stroke-width="1.8" />
<line x1="430.00" y1="304.50" x2="425.00" y2="316.00" stroke="#c4c4cc" stroke-width="1.8" />
<line x1="472.50" y1="308.50" x2="483.00" y2="308.50" stroke="#c4c4cc" stroke-width="1.8" />
<circle cx="458.7" cy="295.5" r="2.8" fill="#f0d040"/>
<circle cx="472.5" cy="308.5" r="2.4" fill="#c8c8d0"/>
<circle cx="466.5" cy="321.5" r="2.5" fill="#6a4ed2"/>
<circle cx="450.5" cy="321.5" r="2.5" fill="#6a4ed2"/>
<circle cx="445.0" cy="309.0" r="2.4" fill="#c8c8d0"/>
<circle cx="430.0" cy="304.5" r="2.6" fill="#2232f0"/>
<circle cx="426.5" cy="297.5" r="1.4" fill="#dcdcec"/>
<circle cx="425.0" cy="316.0" r="1.4" fill="#dcdcec"/>
<circle cx="483" cy="308.5" r="1.4" fill="#dcdcec"/>
<line x1="586.70" y1="295.50" x2="600.00" y2="308.50" stroke="#c4c4cc" stroke-width="1.8" />
<line x1="600.00" y1="308.50" x2="593.00" y2="320.50" stroke="#c4c4cc" stroke-width="1.8" />
<line x1="593.00" y1="320.50" x2="579.50" y2="320.50" stroke="#c4c4cc" stroke-width="1.8" />
<line x1="579.50" y1="320.50" x2="573.00" y2="308.50" stroke="#c4c4cc" stroke-width="1.8" />
<line x1="573.00" y1="308.50" x2="586.70" y2="295.50" stroke="#c4c4cc" stroke-width="1.8" />
<line x1="573.00" y1="308.50" x2="560.00" y2="305.50" stroke="#c4c4cc" stroke-width="1.8" />
<line x1="560.00" y1="305.50" x2="556.50" y2="297.50" stroke="#c4c4cc" stroke-width="1.8" />
<line x1="560.00" y1="305.50" x2="554.00" y2="313.00" stroke="#c4c4cc" stroke-width="1.8" />
<line x1="579.50" y1="320.50" x2="575.00" y2="330.50" stroke="#c4c4cc" stroke-width="1.8" />
<circle cx="586.7" cy="295.5" r="2.8" fill="#f0d040"/>
<circle cx="600.0" cy="308.5" r="2.5" fill="#6a4ed2"/>
<circle cx="593.0" cy="320.5" r="2.5" fill="#6a4ed2"/>
<circle cx="579.5" cy="320.5" r="2.4" fill="#c8c8d0"/>
<circle cx="573.0" cy="308.5" r="2.4" fill="#c8c8d0"/>
<circle cx="560.0" cy="305.5" r="2.6" fill="#2232f0"/>
<circle cx="556.5" cy="297.5" r="1.4" fill="#dcdcec"/>
<circle cx="554.0" cy="313.0" r="1.4" fill="#dcdcec"/>
<circle cx="575" cy="330.5" r="1.4" fill="#dcdcec"/>
<line x1="330.50" y1="299.50" x2="333.50" y2="306.50" stroke="#000" stroke-width="1.6" />
<line x1="319.50" y1="286.50" x2="324.50" y2="292.50" stroke="#000" stroke-width="1.6" />
<polygon points="318.5,283.8 322.5,286.8 318.0,289.0" fill="#000"/>
<line x1="428.00" y1="305.80" x2="436.00" y2="307.00" stroke="#000" stroke-width="1.8" />
<line x1="443.00" y1="307.60" x2="452.00" y2="308.40" stroke="#000" stroke-width="1.8" />
<polygon points="414.5,303.5 420.5,300.5 420.0,307.5" fill="#000"/>
<line x1="551.00" y1="299.70" x2="556.00" y2="301.00" stroke="#000" stroke-width="1.8" />
<line x1="561.00" y1="302.50" x2="566.00" y2="304.00" stroke="#000" stroke-width="1.8" />
<line x1="571.00" y1="305.20" x2="575.00" y2="306.40" stroke="#000" stroke-width="1.8" />
<line x1="582.00" y1="307.50" x2="590.00" y2="308.80" stroke="#000" stroke-width="1.8" />
<polygon points="539.5,297.0 545.5,295.0 544.5,301.5" fill="#000"/>
<text x="333.00" y="358.50" font-size="10.2" font-weight="bold" fill="#6c6ea8" text-anchor="middle" >3.52 D</text>
<text x="457.00" y="358.50" font-size="10.2" font-weight="bold" fill="#6c6ea8" text-anchor="middle" >3.56 D</text>
<text x="582.20" y="358.50" font-size="10.2" font-weight="bold" fill="#6c6ea8" text-anchor="middle" >5.27 D</text>
<linearGradient id="cbE" x1="0" y1="0" x2="0" y2="1"><stop offset="0" stop-color="#2a2ae8"/><stop offset="0.2" stop-color="#5a5af0"/><stop offset="0.47" stop-color="#ffffff"/><stop offset="0.56" stop-color="#ffffff"/><stop offset="0.8" stop-color="#f07878"/><stop offset="1" stop-color="#ee2a2a"/></linearGradient>
<rect x="645.6" y="228.8" width="5.4" height="91.2" fill="url(#cbE)"/>
<text x="647.80" y="227.30" font-size="7.9" font-weight="bold" fill="#000" text-anchor="middle" >0.816 eV</text>
<text x="647.10" y="331.10" font-size="7.9" font-weight="bold" fill="#000" text-anchor="middle" >-0.816 eV</text>
<pattern id="chk1" patternUnits="userSpaceOnUse" x="37.4" y="388.2" width="8.3" height="7.2"><rect x="0" y="3.6" width="4.0" height="3.4" fill="#8d91c4"/><rect x="4.15" y="0" width="4.0" height="3.4" fill="#cdd0e6"/></pattern>
<pattern id="chk2" patternUnits="userSpaceOnUse" x="165.2" y="388.6" width="8.1" height="7.4"><rect x="0" y="3.7" width="3.9" height="3.5" fill="#8d91c4"/><rect x="-4.05" y="0" width="3.9" height="3.5" fill="#cdd0e6"/><rect x="4.05" y="0" width="3.9" height="3.5" fill="#cdd0e6"/></pattern>
<rect x="36.1" y="385.8" width="23.0" height="155.49999999999994" fill="url(#chk1)"/>
<rect x="159.9" y="385.8" width="19.0" height="155.49999999999994" fill="url(#chk2)"/>
<polyline points="30.90,422.70 32.90,422.70 34.90,422.70 36.90,422.70 38.90,422.70 40.90,422.70 42.90,422.69 44.90,422.69 46.90,422.69 48.90,422.69 50.90,422.69 52.90,422.69 54.90,422.68 56.90,422.67 58.90,422.66 60.90,422.63 62.90,422.56 63.70,422.49 63.85,422.47 64.00,422.45 64.15,422.42 64.30,422.39 64.45,422.36 64.60,422.32 64.75,422.28 64.90,422.22 65.05,422.16 65.20,422.08 65.35,421.98 65.50,421.86 65.65,421.71 65.80,421.51 65.95,421.24 66.10,420.88 66.25,420.36 66.40,419.60 66.55,418.42 66.70,416.50 66.85,413.16 66.90,411.54 67.00,407.20 67.15,397.90 67.30,391.70 67.45,397.90 67.60,407.20 67.75,413.16 67.90,416.50 68.05,418.42 68.20,419.60 68.35,420.36 68.50,420.88 68.65,421.24 68.80,421.51 68.90,421.65 68.95,421.71 69.10,421.86 69.25,421.98 69.40,422.08 69.55,422.16 69.70,422.22 69.85,422.28 70.00,422.32 70.15,422.36 70.30,422.39 70.45,422.42 70.60,422.45 70.75,422.47 70.90,422.49 72.50,422.60 72.65,422.60 72.80,422.61 72.90,422.61 72.95,422.61 73.10,422.59 73.25,422.55 73.40,422.46 73.55,422.27 73.70,422.00 73.85,421.70 74.00,421.48 74.15,421.45 74.30,421.62 74.45,421.91 74.60,422.21 74.75,422.43 74.90,422.56 75.05,422.62 75.20,422.64 75.35,422.65 75.50,422.66 75.65,422.66 76.90,422.67 78.90,422.68 80.90,422.68 82.90,422.69 84.90,422.69 86.90,422.69 88.90,422.69 90.90,422.69 92.90,422.69 94.90,422.69 96.90,422.70 98.90,422.70 100.90,422.70 102.90,422.70 104.90,422.70 106.90,422.70 108.90,422.70 110.90,422.70 112.90,422.70 114.90,422.70 116.90,422.70 118.90,422.70 120.90,422.70 122.90,422.70 124.90,422.69 126.90,422.69 128.90,422.69 130.90,422.69 132.90,422.69 134.90,422.69 136.90,422.69 138.90,422.69 140.90,422.69 142.90,422.69 144.90,422.68 146.90,422.68 148.90,422.68 150.90,422.67 152.90,422.67 154.90,422.65 156.90,422.64 158.90,422.61 160.80,422.55 160.90,422.55 160.95,422.54 161.10,422.54 161.25,422.53 161.40,422.52 161.55,422.51 161.70,422.51 161.85,422.50 162.00,422.49 162.15,422.47 162.30,422.46 162.45,422.45 162.60,422.44 162.75,422.42 162.90,422.40 163.05,422.39 163.20,422.37 163.35,422.35 163.50,422.32 163.65,422.30 163.80,422.27 163.95,422.24 164.10,422.20 164.25,422.16 164.40,422.12 164.55,422.07 164.70,422.01 164.85,421.94 164.90,421.92 165.00,421.87 165.15,421.78 165.30,421.68 165.45,421.57 165.60,421.43 165.75,421.27 165.90,421.07 166.05,420.83 166.20,420.54 166.35,420.18 166.50,419.72 166.65,419.14 166.80,418.38 166.90,417.75 166.95,417.38 167.10,416.05 167.25,414.27 167.40,411.90 167.55,408.88 167.70,405.42 167.85,402.37 168.00,401.10 168.15,402.37 168.30,405.42 168.45,408.88 168.60,411.90 168.75,414.27 168.90,416.05 169.05,417.38 169.20,418.38 169.35,419.14 169.50,419.72 169.65,420.18 169.80,420.54 169.95,420.83 170.10,421.07 170.25,421.27 170.40,421.43 170.55,421.57 170.70,421.68 170.85,421.78 170.90,421.81 171.00,421.87 171.15,421.94 171.30,422.01 171.45,422.07 171.60,422.12 171.75,422.16 171.90,422.20 172.05,422.24 172.20,422.27 172.35,422.30 172.50,422.32 172.65,422.35 172.80,422.37 172.90,422.38 172.95,422.39 173.10,422.40 173.25,422.42 173.40,422.44 173.55,422.45 173.70,422.46 173.85,422.47 174.00,422.49 174.15,422.50 174.30,422.51 174.45,422.51 174.60,422.52 174.75,422.53 174.90,422.54 175.05,422.54 176.90,422.60 178.90,422.63 180.90,422.65 182.90,422.66 184.90,422.67 186.90,422.68 188.90,422.68 190.90,422.68 192.90,422.69 194.90,422.69 196.90,422.69 198.90,422.69 200.90,422.69 202.90,422.69 204.90,422.69 206.90,422.69 208.90,422.70 210.90,422.70 212.90,422.70 214.90,422.70 216.90,422.70 218.90,422.70 220.20,422.70" fill="none" stroke="#7a6cc8" stroke-width="1.35" stroke-linejoin="round" />
<polyline points="30.90,487.81 31.15,487.81 31.40,487.80 31.65,487.80 31.90,487.79 32.15,487.78 32.40,487.78 32.65,487.77 32.90,487.76 33.15,487.75 33.40,487.75 33.65,487.74 33.90,487.73 34.15,487.72 34.40,487.71 34.65,487.70 34.90,487.69 35.15,487.67 35.40,487.66 35.65,487.65 35.90,487.64 36.15,487.62 36.40,487.61 36.65,487.59 36.90,487.57 37.15,487.55 37.40,487.53 37.65,487.51 37.90,487.49 38.15,487.46 38.40,487.44 38.65,487.41 38.90,487.38 39.15,487.34 39.40,487.31 39.65,487.27 39.90,487.23 40.15,487.18 40.40,487.13 40.65,487.08 40.90,487.02 41.15,486.95 41.40,486.88 41.65,486.80 41.90,486.71 42.15,486.61 42.40,486.50 42.65,486.37 42.90,486.23 43.15,486.07 43.40,485.89 43.65,485.68 43.90,485.45 44.15,485.17 44.40,484.85 44.65,484.48 44.90,484.04 45.15,483.52 45.40,482.90 45.65,482.15 45.90,481.25 46.15,480.15 46.40,478.82 46.65,477.20 46.90,475.25 47.15,472.95 47.40,470.34 47.65,467.59 47.90,465.04 48.15,463.18 48.40,462.49 48.65,463.18 48.90,465.04 49.15,467.59 49.40,470.34 49.65,472.94 49.90,475.24 50.15,477.19 50.40,478.81 50.65,480.15 50.90,481.24 51.15,482.15 51.40,482.89 51.65,483.51 51.90,484.04 52.15,484.47 52.40,484.85 52.65,485.17 52.90,485.44 53.15,485.68 53.40,485.88 53.65,486.07 53.90,486.22 54.15,486.36 54.40,486.49 54.65,486.60 54.90,486.70 55.15,486.79 55.40,486.87 55.65,486.94 55.90,487.01 56.15,487.07 56.40,487.12 56.65,487.17 56.90,487.21 57.15,487.26 57.40,487.29 57.65,487.33 57.90,487.36 58.15,487.39 58.40,487.42 58.65,487.44 58.90,487.47 59.15,487.49 59.40,487.51 59.65,487.53 59.90,487.54 60.15,487.56 60.40,487.57 60.65,487.59 60.90,487.60 61.15,487.61 61.40,487.62 61.65,487.63 61.90,487.63 62.15,487.64 62.40,487.64 62.65,487.65 62.90,487.65 63.15,487.65 63.40,487.65 63.65,487.64 63.80,487.63 63.90,487.63 63.95,487.63 64.10,487.62 64.15,487.62 64.25,487.61 64.40,487.60 64.55,487.58 64.65,487.57 64.70,487.56 64.85,487.54 64.90,487.53 65.00,487.51 65.15,487.48 65.30,487.44 65.40,487.41 65.45,487.39 65.60,487.32 65.65,487.29 65.75,487.23 65.90,487.12 66.05,486.97 66.15,486.84 66.20,486.76 66.35,486.46 66.40,486.34 66.50,486.02 66.65,485.34 66.80,484.23 66.90,483.07 66.95,482.29 67.10,478.84 67.25,473.44 67.40,469.84 67.55,473.44 67.70,478.84 67.85,482.31 68.00,484.25 68.15,485.37 68.30,486.05 68.45,486.50 68.60,486.80 68.75,487.01 68.90,487.17 69.05,487.29 69.20,487.38 69.35,487.45 69.50,487.51 69.65,487.56 69.80,487.60 69.95,487.63 70.10,487.66 70.25,487.68 70.40,487.70 70.55,487.72 70.70,487.74 70.85,487.75 70.90,487.75 72.90,487.85 73.40,487.86 73.55,487.86 73.70,487.87 73.85,487.87 74.00,487.86 74.15,487.83 74.30,487.77 74.45,487.64 74.60,487.46 74.75,487.26 74.90,487.12 75.05,487.10 75.20,487.21 75.35,487.40 75.50,487.60 75.65,487.75 75.80,487.84 75.95,487.88 76.10,487.90 76.25,487.90 76.40,487.90 76.55,487.91 76.90,487.91 78.90,487.92 80.90,487.93 82.90,487.94 84.90,487.95 86.90,487.95 88.90,487.96 90.90,487.96 92.90,487.96 94.90,487.96 96.90,487.97 98.90,487.97 100.90,487.97 102.90,487.97 104.90,487.96 106.90,487.96 108.90,487.95 110.90,487.94 112.90,487.92 114.90,487.86 116.90,487.68 117.40,487.57 117.55,487.53 117.70,487.48 117.85,487.41 118.00,487.34 118.15,487.25 118.30,487.15 118.45,487.02 118.60,486.85 118.75,486.64 118.90,486.36 119.05,486.00 119.20,485.49 119.35,484.77 119.50,483.69 119.65,481.99 119.80,479.11 119.95,473.83 120.10,463.40 120.25,443.87 120.40,427.99 120.55,443.87 120.70,463.40 120.85,473.84 120.90,475.99 121.00,479.11 121.15,481.99 121.30,483.69 121.45,484.77 121.60,485.49 121.75,486.00 121.90,486.36 122.05,486.64 122.20,486.85 122.35,487.02 122.50,487.15 122.65,487.25 122.80,487.34 122.90,487.39 122.95,487.42 123.10,487.48 123.25,487.53 124.90,487.80 126.90,487.90 128.90,487.94 130.90,487.95 132.90,487.96 134.90,487.97 136.90,487.97 138.90,487.98 140.90,487.98 142.90,487.98 144.90,487.98 146.90,487.98 148.90,487.98 150.90,487.98 152.90,487.97 154.90,487.97 156.90,487.96 158.90,487.96 160.90,487.94 162.90,487.92 163.60,487.91 163.75,487.91 163.90,487.91 164.05,487.90 164.20,487.90 164.35,487.90 164.50,487.89 164.65,487.89 164.80,487.88 164.90,487.88 164.95,487.88 165.10,487.87 165.25,487.87 165.40,487.86 165.55,487.86 165.70,487.85 165.85,487.85 166.00,487.84 166.15,487.83 166.30,487.83 166.45,487.82 166.60,487.81 166.75,487.80 166.90,487.79 167.05,487.78 167.20,487.77 167.35,487.75 167.50,487.74 167.65,487.72 167.80,487.71 167.95,487.69 168.10,487.67 168.25,487.65 168.40,487.62 168.55,487.60 168.70,487.57 168.85,487.53 168.90,487.52 169.00,487.50 169.15,487.45 169.30,487.40 169.45,487.35 169.60,487.29 169.75,487.22 169.90,487.13 170.05,487.04 170.20,486.93 170.35,486.79 170.50,486.64 170.65,486.45 170.80,486.22 170.90,486.04 170.95,485.94 171.10,485.59 171.25,485.16 171.40,484.62 171.55,483.94 171.70,483.08 171.85,481.99 172.00,480.68 172.15,479.17 172.30,477.65 172.45,476.46 172.60,475.99 172.75,476.46 172.90,477.65 173.05,479.17 173.20,480.68 173.35,481.99 173.50,483.08 173.65,483.94 173.80,484.62 173.95,485.16 174.10,485.59 174.25,485.94 174.40,486.22 174.55,486.45 174.70,486.64 174.85,486.80 174.90,486.84 175.00,486.93 175.15,487.04 175.30,487.14 175.45,487.22 175.60,487.29 175.75,487.35 175.90,487.41 176.05,487.45 176.20,487.50 176.35,487.53 176.50,487.57 176.65,487.60 176.80,487.62 176.90,487.64 176.95,487.65 177.10,487.67 177.25,487.69 177.40,487.71 177.55,487.73 177.70,487.74 177.85,487.76 178.00,487.77 178.15,487.78 178.30,487.79 178.45,487.80 178.60,487.81 178.75,487.82 178.90,487.83 179.05,487.84 179.20,487.84 179.35,487.85 179.50,487.86 179.65,487.86 179.80,487.87 179.95,487.87 180.10,487.88 180.25,487.88 180.40,487.89 180.55,487.89 180.70,487.89 180.85,487.90 180.90,487.90 181.00,487.90 181.15,487.90 181.30,487.91 181.45,487.91 182.90,487.93 184.90,487.95 186.90,487.96 188.90,487.97 190.90,487.98 192.90,487.98 194.90,487.98 196.90,487.99 198.90,487.99 200.90,487.99 202.90,487.99 204.90,487.99 206.90,487.99 208.90,487.99 210.90,487.99 212.90,487.99 214.90,487.99 216.90,487.99 218.90,487.99 220.20,487.99" fill="none" stroke="#e06a80" stroke-width="1.35" stroke-linejoin="round" />
<polyline points="30.90,532.04 31.17,532.04 31.70,532.03 32.23,532.02 32.77,532.01 32.90,532.00 33.30,531.99 33.83,531.98 34.37,531.96 34.90,531.95 35.43,531.93 35.97,531.91 36.50,531.88 36.90,531.86 37.03,531.86 37.57,531.83 38.10,531.79 38.50,531.76 38.63,531.75 38.65,531.75 38.80,531.74 38.90,531.73 38.95,531.73 39.10,531.72 39.17,531.71 39.25,531.70 39.40,531.69 39.55,531.67 39.70,531.66 39.85,531.64 40.00,531.63 40.15,531.61 40.23,531.60 40.30,531.59 40.45,531.57 40.60,531.56 40.75,531.53 40.77,531.53 40.90,531.51 41.05,531.49 41.20,531.47 41.30,531.45 41.35,531.44 41.50,531.42 41.65,531.39 41.80,531.36 41.83,531.36 41.95,531.33 42.10,531.30 42.25,531.27 42.37,531.24 42.40,531.24 42.55,531.20 42.70,531.16 42.85,531.12 42.90,531.11 43.00,531.08 43.15,531.04 43.30,530.99 43.43,530.95 43.45,530.94 43.60,530.89 43.75,530.83 43.90,530.78 43.97,530.75 44.05,530.71 44.20,530.65 44.35,530.58 44.50,530.50 44.65,530.43 44.80,530.34 44.90,530.29 44.95,530.26 45.03,530.21 45.10,530.16 45.25,530.06 45.40,529.96 45.55,529.84 45.57,529.83 45.70,529.72 45.85,529.59 46.00,529.46 46.10,529.36 46.15,529.31 46.30,529.16 46.45,528.99 46.60,528.82 46.63,528.78 46.75,528.63 46.90,528.43 47.05,528.22 47.17,528.04 47.20,527.99 47.35,527.75 47.50,527.48 47.65,527.19 47.70,527.09 47.80,526.88 47.95,526.54 48.10,526.16 48.23,525.80 48.25,525.74 48.40,525.27 48.55,524.75 48.70,524.18 48.77,523.92 48.85,523.62 48.90,523.44 49.00,523.10 49.15,522.73 49.30,522.60 49.45,522.73 49.60,523.10 49.75,523.62 49.83,523.92 49.90,524.18 50.05,524.75 50.20,525.27 50.35,525.74 50.37,525.80 50.50,526.16 50.65,526.54 50.80,526.88 50.90,527.09 50.95,527.19 51.10,527.48 51.25,527.75 51.40,527.99 51.43,528.04 51.55,528.22 51.70,528.43 51.85,528.63 51.97,528.78 52.00,528.82 52.15,528.99 52.30,529.16 52.45,529.31 52.50,529.36 52.60,529.46 52.75,529.59 52.90,529.72 53.03,529.83 53.05,529.84 53.20,529.96 53.35,530.06 53.50,530.16 53.57,530.21 53.65,530.25 53.80,530.34 53.95,530.43 54.10,530.50 54.25,530.58 54.40,530.65 54.55,530.71 54.63,530.75 54.70,530.78 54.85,530.83 54.90,530.85 55.00,530.89 55.15,530.94 55.17,530.95 55.30,530.99 55.45,531.04 55.60,531.08 55.70,531.11 55.75,531.12 55.90,531.16 56.05,531.20 56.20,531.24 56.23,531.24 56.35,531.27 56.50,531.30 56.65,531.33 56.77,531.36 56.80,531.36 56.90,531.38 56.95,531.39 57.10,531.42 57.25,531.44 57.30,531.45 57.40,531.47 57.55,531.49 57.70,531.51 57.83,531.53 57.85,531.53 58.00,531.55 58.15,531.57 58.30,531.59 58.37,531.60 58.45,531.61 58.60,531.63 58.75,531.64 58.90,531.66 59.05,531.67 59.20,531.69 59.35,531.70 59.43,531.71 59.50,531.72 59.65,531.73 59.80,531.74 59.95,531.75 59.97,531.75 60.10,531.76 60.50,531.79 60.90,531.82 61.03,531.83 61.57,531.86 62.10,531.88 62.63,531.91 62.90,531.92 63.17,531.93 63.70,531.95 64.23,531.96 64.77,531.98 64.90,531.98 65.30,531.99 65.83,532.00 66.37,532.02 66.90,532.03 67.43,532.04 67.97,532.05 68.50,532.05 68.90,532.06 69.03,532.06 69.57,532.07 70.10,532.07 70.63,532.08 70.90,532.08 71.17,532.09 71.70,532.09 72.23,532.10 72.77,532.10 72.90,532.10 73.30,532.11 73.83,532.11 74.37,532.11 74.90,532.12 75.43,532.12 75.97,532.12 76.50,532.13 76.90,532.13 77.03,532.13 77.57,532.13 78.10,532.13 78.63,532.14 78.90,532.14 79.17,532.14 79.70,532.14 80.23,532.14 80.77,532.14 80.90,532.14 81.30,532.15 81.83,532.15 82.37,532.15 82.90,532.15 83.43,532.15 83.97,532.15 84.50,532.15 84.90,532.16 85.03,532.16 85.57,532.16 86.10,532.16 86.63,532.16 86.90,532.16 87.17,532.16 87.70,532.16 88.90,532.16 90.90,532.17 92.90,532.17 94.90,532.17 96.90,532.17 98.90,532.17 100.90,532.17 102.90,532.17 104.90,532.17 106.90,532.17 108.90,532.17 110.90,532.16 112.90,532.14 114.90,532.11 116.90,532.00 117.40,531.93 117.55,531.90 117.70,531.87 117.85,531.83 118.00,531.78 118.15,531.73 118.30,531.66 118.45,531.57 118.60,531.47 118.75,531.34 118.90,531.16 119.05,530.93 119.20,530.61 119.35,530.15 119.50,529.47 119.65,528.39 119.80,526.57 119.95,523.23 120.10,516.62 120.25,504.25 120.40,494.19 120.55,504.25 120.70,516.62 120.85,523.23 120.90,524.59 121.00,526.57 121.15,528.39 121.30,529.47 121.45,530.15 121.60,530.61 121.75,530.93 121.90,531.16 122.05,531.34 122.20,531.47 122.35,531.58 122.50,531.66 122.65,531.73 122.80,531.78 122.90,531.81 122.95,531.83 123.10,531.87 123.25,531.90 124.90,532.07 126.90,532.13 128.90,532.16 130.90,532.17 132.90,532.18 134.90,532.18 136.90,532.18 138.90,532.19 140.90,532.19 142.90,532.19 144.90,532.19 146.90,532.19 148.90,532.19 150.90,532.19 152.90,532.19 154.90,532.19 156.90,532.19 158.90,532.19 160.90,532.19 162.90,532.19 164.90,532.19 166.90,532.19 168.90,532.20 170.90,532.20 172.90,532.20 174.90,532.20 176.90,532.20 178.90,532.20 180.90,532.20 182.90,532.20 184.90,532.20 186.90,532.20 188.90,532.20 190.90,532.20 192.90,532.20 194.90,532.20 196.90,532.20 198.90,532.20 200.90,532.20 202.90,532.20 204.90,532.20 206.90,532.20 208.90,532.20 210.90,532.20 212.90,532.20 214.90,532.20 216.90,532.20 218.90,532.20 220.20,532.20" fill="none" stroke="#111" stroke-width="1.45" stroke-linejoin="round" />
<rect x="30.9" y="385.8" width="189.29999999999998" height="155.49999999999994" fill="none" stroke="#000" stroke-width="1.45"/>
<line x1="30.90" y1="541.30" x2="30.90" y2="544.00" stroke="#000" stroke-width="1" />
<line x1="49.83" y1="541.30" x2="49.83" y2="542.90" stroke="#000" stroke-width="1" />
<line x1="68.76" y1="541.30" x2="68.76" y2="544.00" stroke="#000" stroke-width="1" />
<line x1="87.69" y1="541.30" x2="87.69" y2="542.90" stroke="#000" stroke-width="1" />
<line x1="106.62" y1="541.30" x2="106.62" y2="544.00" stroke="#000" stroke-width="1" />
<line x1="125.55" y1="541.30" x2="125.55" y2="542.90" stroke="#000" stroke-width="1" />
<line x1="144.48" y1="541.30" x2="144.48" y2="544.00" stroke="#000" stroke-width="1" />
<line x1="163.41" y1="541.30" x2="163.41" y2="542.90" stroke="#000" stroke-width="1" />
<line x1="182.34" y1="541.30" x2="182.34" y2="544.00" stroke="#000" stroke-width="1" />
<line x1="201.27" y1="541.30" x2="201.27" y2="542.90" stroke="#000" stroke-width="1" />
<line x1="220.20" y1="541.30" x2="220.20" y2="544.00" stroke="#000" stroke-width="1" />
<text x="30.90" y="553.40" font-size="8.4" font-weight="bold" fill="#000" text-anchor="middle" >9.0</text>
<text x="68.76" y="553.40" font-size="8.4" font-weight="bold" fill="#000" text-anchor="middle" >8.5</text>
<text x="106.62" y="553.40" font-size="8.4" font-weight="bold" fill="#000" text-anchor="middle" >8.0</text>
<text x="144.48" y="553.40" font-size="8.4" font-weight="bold" fill="#000" text-anchor="middle" >7.5</text>
<text x="182.34" y="553.40" font-size="8.4" font-weight="bold" fill="#000" text-anchor="middle" >7.0</text>
<text x="220.20" y="553.40" font-size="8.4" font-weight="bold" fill="#000" text-anchor="middle" >6.5</text>
<text x="127.5" y="564.5" font-size="10.2" font-weight="bold" text-anchor="middle">δ (ppm)</text>
<text transform="translate(21.2,465.5) rotate(-90)" font-size="10.2" font-weight="bold" text-anchor="middle">Intensity (a.u.)</text>
<text x="212.20" y="419.00" font-size="7.7" font-weight="bold" fill="#000" text-anchor="end" >2NTD</text>
<text x="218.60" y="483.60" font-size="7.5" font-weight="bold" fill="#000" text-anchor="end" >FAI/2NTD</text>
<text x="208.60" y="528.00" font-size="7.7" font-weight="bold" fill="#000" text-anchor="end" >FAI</text>
<text x="4.00" y="390.80" font-size="14.2" font-weight="bold" fill="#000" text-anchor="start" >f</text>
<text x="63.40" y="397.00" font-size="6.0" font-weight="normal" fill="#3a58b0" text-anchor="middle" >c</text>
<text x="167.00" y="400.80" font-size="5.5" font-weight="normal" fill="#3a58b0" text-anchor="middle" >d</text>
<text x="49.20" y="519.40" font-size="5.6" font-weight="bold" fill="#111" text-anchor="middle" >a</text>
<text x="116.30" y="499.40" font-size="5.8" font-weight="bold" fill="#111" text-anchor="middle" >b</text>
<text x="104.10" y="406.82" font-size="5.6" font-weight="bold" fill="#3a58b0" text-anchor="middle" >c</text>
<text x="108.80" y="407.30" font-size="3.6" font-weight="bold" fill="#222" text-anchor="middle" >H</text>
<text x="127.10" y="403.59" font-size="3.3" font-weight="bold" fill="#222" text-anchor="middle" >S</text>
<text x="121.50" y="420.39" font-size="3.3" font-weight="bold" fill="#222" text-anchor="middle" >N</text>
<text x="132.50" y="420.39" font-size="3.3" font-weight="bold" fill="#222" text-anchor="middle" >N</text>
<text x="148.50" y="407.30" font-size="3.6" font-weight="bold" fill="#222" text-anchor="middle" >NH</text>
<text x="151.60" y="408.54" font-size="2.6" font-weight="bold" fill="#222" text-anchor="middle" >2</text>
<text x="154.70" y="404.32" font-size="5.6" font-weight="bold" fill="#3a58b0" text-anchor="middle" >d</text>
<line x1="110.80" y1="406.50" x2="118.90" y2="409.20" stroke="#333" stroke-width="0.55" />
<line x1="118.90" y1="409.20" x2="125.60" y2="403.50" stroke="#333" stroke-width="0.55" />
<line x1="128.60" y1="403.50" x2="135.80" y2="409.20" stroke="#333" stroke-width="0.55" />
<line x1="135.80" y1="409.20" x2="145.60" y2="406.50" stroke="#333" stroke-width="0.55" />
<line x1="118.90" y1="409.20" x2="121.00" y2="417.00" stroke="#333" stroke-width="0.55" />
<line x1="135.80" y1="409.20" x2="133.00" y2="417.00" stroke="#333" stroke-width="0.55" />
<line x1="123.30" y1="419.20" x2="130.70" y2="419.20" stroke="#333" stroke-width="0.55" />
<line x1="119.80" y1="411.00" x2="120.50" y2="416.00" stroke="#666" stroke-width="1.4" stroke-dasharray="0.5 0.5"/>
<line x1="134.90" y1="411.00" x2="133.60" y2="416.00" stroke="#666" stroke-width="1.4" stroke-dasharray="0.5 0.5"/>
<text x="73.50" y="504.97" font-size="5.2" font-weight="normal" fill="#444" text-anchor="middle" >e</text>
<text x="81.7" y="510.7" font-size="4.9" text-anchor="middle" fill="#222">H<tspan font-size="3.4" dy="1">2</tspan><tspan dy="-1">N</tspan><tspan font-size="3.4" dy="-2">+</tspan></text>
<text x="82.5" y="529.2" font-size="4.9" text-anchor="middle" fill="#222">H<tspan font-size="3.4" dy="1">2</tspan><tspan dy="-1">N</tspan></text>
<text x="101.10" y="520.06" font-size="4.9" font-weight="normal" fill="#222" text-anchor="middle" >H</text>
<text x="103.90" y="515.07" font-size="5.2" font-weight="normal" fill="#222" text-anchor="middle" >b</text>
<line x1="90.60" y1="517.60" x2="99.00" y2="517.60" stroke="#222" stroke-width="0.7" />
<line x1="90.60" y1="517.60" x2="86.60" y2="524.80" stroke="#222" stroke-width="0.7" />
<line x1="90.60" y1="517.60" x2="86.80" y2="511.80" stroke="#222" stroke-width="0.7" />
<line x1="89.00" y1="518.60" x2="85.20" y2="512.80" stroke="#222" stroke-width="0.7" />
<rect x="263.3" y="385.6" width="192.2" height="154.60000000000002" fill="none" stroke="#000" stroke-width="1.45"/>
<rect x="273.50" y="386.30" width="15.10" height="118.03" fill="#a7cfe0"/>
<text x="281.65" y="510.13" font-size="5.9" font-weight="bold" fill="#000" text-anchor="middle" >-2.31</text>
<rect x="288.60" y="386.30" width="15.10" height="76.91" fill="#fed796"/>
<text x="296.75" y="469.01" font-size="5.9" font-weight="bold" fill="#000" text-anchor="middle" >-1.51</text>
<rect x="303.70" y="386.30" width="15.10" height="83.08" fill="#d96c80"/>
<text x="311.85" y="475.18" font-size="5.9" font-weight="bold" fill="#000" text-anchor="middle" >-1.63</text>
<rect x="337.30" y="386.30" width="15.10" height="114.95" fill="#a7cfe0"/>
<text x="345.45" y="507.05" font-size="5.9" font-weight="bold" fill="#000" text-anchor="middle" >-2.25</text>
<rect x="352.40" y="386.30" width="15.10" height="91.31" fill="#fed796"/>
<text x="360.55" y="483.41" font-size="5.9" font-weight="bold" fill="#000" text-anchor="middle" >-1.79</text>
<rect x="367.50" y="386.30" width="15.10" height="82.57" fill="#d96c80"/>
<text x="375.65" y="474.67" font-size="5.9" font-weight="bold" fill="#000" text-anchor="middle" >-1.62</text>
<rect x="401.30" y="386.30" width="15.10" height="82.05" fill="#a7cfe0"/>
<text x="409.45" y="474.15" font-size="5.9" font-weight="bold" fill="#000" text-anchor="middle" >-1.61</text>
<rect x="416.40" y="386.30" width="15.10" height="40.93" fill="#fed796"/>
<text x="424.55" y="433.03" font-size="5.9" font-weight="bold" fill="#000" text-anchor="middle" >-0.81</text>
<rect x="431.50" y="386.30" width="15.10" height="36.82" fill="#d96c80"/>
<text x="439.65" y="428.92" font-size="5.9" font-weight="bold" fill="#000" text-anchor="middle" >-0.73</text>
<rect x="263.3" y="385.6" width="192.2" height="154.60000000000002" fill="none" stroke="#000" stroke-width="1.45"/>
<line x1="260.60" y1="385.60" x2="263.30" y2="385.60" stroke="#000" stroke-width="1" />
<line x1="261.70" y1="398.45" x2="263.30" y2="398.45" stroke="#000" stroke-width="1" />
<line x1="260.60" y1="411.30" x2="263.30" y2="411.30" stroke="#000" stroke-width="1" />
<line x1="261.70" y1="424.15" x2="263.30" y2="424.15" stroke="#000" stroke-width="1" />
<line x1="260.60" y1="437.00" x2="263.30" y2="437.00" stroke="#000" stroke-width="1" />
<line x1="261.70" y1="449.85" x2="263.30" y2="449.85" stroke="#000" stroke-width="1" />
<line x1="260.60" y1="462.70" x2="263.30" y2="462.70" stroke="#000" stroke-width="1" />
<line x1="261.70" y1="475.55" x2="263.30" y2="475.55" stroke="#000" stroke-width="1" />
<line x1="260.60" y1="488.40" x2="263.30" y2="488.40" stroke="#000" stroke-width="1" />
<line x1="261.70" y1="501.25" x2="263.30" y2="501.25" stroke="#000" stroke-width="1" />
<line x1="260.60" y1="514.10" x2="263.30" y2="514.10" stroke="#000" stroke-width="1" />
<line x1="261.70" y1="526.95" x2="263.30" y2="526.95" stroke="#000" stroke-width="1" />
<line x1="260.60" y1="539.80" x2="263.30" y2="539.80" stroke="#000" stroke-width="1" />
<text x="260.20" y="388.70" font-size="8.7" font-weight="bold" fill="#000" text-anchor="end" >0.0</text>
<text x="260.20" y="414.40" font-size="8.7" font-weight="bold" fill="#000" text-anchor="end" >-0.5</text>
<text x="260.20" y="440.10" font-size="8.7" font-weight="bold" fill="#000" text-anchor="end" >-1.0</text>
<text x="260.20" y="465.80" font-size="8.7" font-weight="bold" fill="#000" text-anchor="end" >-1.5</text>
<text x="260.20" y="491.50" font-size="8.7" font-weight="bold" fill="#000" text-anchor="end" >-2.0</text>
<text x="260.20" y="517.20" font-size="8.7" font-weight="bold" fill="#000" text-anchor="end" >-2.5</text>
<text x="260.20" y="542.90" font-size="8.7" font-weight="bold" fill="#000" text-anchor="end" >-3.0</text>
<line x1="296.20" y1="540.20" x2="296.20" y2="542.90" stroke="#000" stroke-width="1" />
<line x1="360.00" y1="540.20" x2="360.00" y2="542.90" stroke="#000" stroke-width="1" />
<line x1="424.00" y1="540.20" x2="424.00" y2="542.90" stroke="#000" stroke-width="1" />
<text x="296.2" y="554.6" font-size="9.6" font-weight="bold" text-anchor="middle">V<tspan font-size="6.2" dy="2">I</tspan></text>
<text x="360.0" y="554.6" font-size="9.6" font-weight="bold" text-anchor="middle">Pb<tspan font-size="6.2" dy="2">I</tspan></text>
<text x="424.0" y="554.6" font-size="9.6" font-weight="bold" text-anchor="middle">V<tspan font-size="6.2" dy="2">Pb</tspan></text>
<text transform="translate(237.4,462.0) rotate(-90)" font-size="10.2" font-weight="bold" text-anchor="middle">E<tspan font-size="6.8" dy="2.2">ads</tspan><tspan dy="-2.2"> (eV)</tspan></text>
<rect x="399.0" y="500.5" width="18.4" height="9.0" fill="#a7cfe0"/>
<text x="419.80" y="508.30" font-size="8.5" font-weight="bold" fill="#000" text-anchor="start" >2NTD</text>
<rect x="399.0" y="511.3" width="18.4" height="9.0" fill="#fed796"/>
<text x="419.80" y="519.10" font-size="8.5" font-weight="bold" fill="#000" text-anchor="start" >5NT4D</text>
<rect x="399.0" y="521.2" width="18.4" height="9.0" fill="#d96c80"/>
<text x="419.80" y="529.00" font-size="8.5" font-weight="bold" fill="#000" text-anchor="start" >5NT3D</text>
<text x="231.20" y="389.60" font-size="14.2" font-weight="bold" fill="#000" text-anchor="start" >g</text>
<filter id="hb1" x="-30%" y="-30%" width="160%" height="160%"><feGaussianBlur stdDeviation="1.0"/></filter>
<filter id="hb3" x="-50%" y="-50%" width="200%" height="200%"><feGaussianBlur stdDeviation="3.2"/></filter>
<filter id="hb05" x="-30%" y="-30%" width="160%" height="160%"><feGaussianBlur stdDeviation="0.45"/></filter>
<radialGradient id="halo" cx="0.5" cy="0.5" r="0.707"><stop offset="0" stop-color="#ffffff"/><stop offset="0.22" stop-color="#ffffff"/><stop offset="0.29" stop-color="#ff3030"/><stop offset="0.44" stop-color="#ff3838"/><stop offset="0.6" stop-color="#ff6e6e"/><stop offset="0.75" stop-color="#ffb0b0"/><stop offset="0.88" stop-color="#ffe2e2"/><stop offset="1" stop-color="#fff8f8"/></radialGradient>
<radialGradient id="haloE" cx="0.5" cy="0.5" r="0.707"><stop offset="0" stop-color="#ffffff"/><stop offset="0.22" stop-color="#ffffff"/><stop offset="0.29" stop-color="#ff3a3a"/><stop offset="0.44" stop-color="#ff4444"/><stop offset="0.6" stop-color="#ff7878"/><stop offset="0.75" stop-color="#ffb6b6"/><stop offset="0.88" stop-color="#ffe4e4"/><stop offset="1" stop-color="#fff8f8"/></radialGradient>
<filter id="hb15" x="-30%" y="-30%" width="160%" height="160%"><feGaussianBlur stdDeviation="1.3"/></filter>
<clipPath id="cl476"><rect x="476.8" y="390.6" width="81.99999999999994" height="158.39999999999998"/></clipPath>
<g clip-path="url(#cl476)">
<rect x="476.8" y="390.6" width="81.99999999999994" height="158.39999999999998" fill="#f6f6ff"/>
<ellipse cx="498" cy="410" rx="9" ry="7" fill="#ff6060" opacity="0.55" filter="url(#hb3)"/>
<ellipse cx="527" cy="426" rx="7" ry="5" fill="#ff6060" opacity="0.5" filter="url(#hb3)"/>
<rect x="466.19" y="434.89" width="21.21" height="21.21" rx="2.65" transform="rotate(45 476.8 445.5)" fill="url(#haloE)" filter="url(#hb15)"/>
<circle cx="476.8" cy="445.5" r="3.2" fill="none" stroke="#6a6aff" stroke-width="0.9" filter="url(#hb05)"/>
<rect x="548.19" y="433.89" width="21.21" height="21.21" rx="2.65" transform="rotate(45 558.8 444.5)" fill="url(#haloE)" filter="url(#hb15)"/>
<circle cx="558.8" cy="444.5" r="3.2" fill="none" stroke="#6a6aff" stroke-width="0.9" filter="url(#hb05)"/>
<g filter="url(#hb3)" opacity="0.45"><circle cx="503" cy="414" r="11.5" fill="#0a10f0"/><circle cx="516" cy="411" r="11.5" fill="#0a10f0"/><circle cx="511" cy="422" r="11.5" fill="#0a10f0"/><circle cx="520" cy="425" r="9.5" fill="#0a10f0"/><circle cx="500" cy="428" r="9.5" fill="#0a10f0"/><circle cx="513" cy="432" r="8.5" fill="#0a10f0"/><circle cx="513" cy="443" r="13.0" fill="#0a10f0"/><circle cx="508" cy="447" r="9.5" fill="#0a10f0"/></g>
<g filter="url(#hb1)"><circle cx="503" cy="414" r="9" fill="#0a10f0"/><circle cx="516" cy="411" r="9" fill="#0a10f0"/><circle cx="511" cy="422" r="9" fill="#0a10f0"/><circle cx="520" cy="425" r="7" fill="#0a10f0"/><circle cx="500" cy="428" r="7" fill="#0a10f0"/><circle cx="513" cy="432" r="6" fill="#0a10f0"/><circle cx="513" cy="443" r="10.5" fill="#0a10f0"/><circle cx="508" cy="447" r="7" fill="#0a10f0"/></g>
<g filter="url(#hb05)"><circle cx="500.6" cy="414.7" r="4.3" fill="#f51515"/><circle cx="515.0" cy="412.6" r="4.8" fill="#f51515"/><circle cx="507.6" cy="419.8" r="3.0" fill="#f51515"/><circle cx="517.9" cy="424.5" r="4.3" fill="#f51515"/><circle cx="521.8" cy="428.0" r="4.2" fill="#f51515"/><circle cx="497.7" cy="429.0" r="3.6" fill="#f51515"/><circle cx="505.4" cy="431.2" r="3.5" fill="#f51515"/><circle cx="513.0" cy="429.0" r="3.4" fill="#f51515"/><circle cx="510.7" cy="443.7" r="2.9" fill="#f51515"/><circle cx="517.0" cy="441.5" r="2.9" fill="#f51515"/><circle cx="512.2" cy="437.2" r="1.5" fill="#f51515"/></g>
<circle cx="504.7" cy="417.8" r="1.4" fill="#fff"/><circle cx="515.6" cy="425.2" r="1.2" fill="#2020f0"/>
<rect x="503.27" y="479.67" width="25.46" height="25.46" rx="3.18" transform="rotate(45 516.0 492.4)" fill="url(#halo)" filter="url(#hb15)"/>
<circle cx="516.0" cy="492.4" r="3.9" fill="#ffffff" filter="url(#hb05)"/><circle cx="516.0" cy="492.09999999999997" r="3.4" fill="none" stroke="#dcdcff" stroke-width="0.8"/><circle cx="516.0" cy="492.59999999999997" r="2.3" fill="#ff1010"/>
<rect x="503.27" y="522.27" width="25.46" height="25.46" rx="3.18" transform="rotate(45 516.0 535.0)" fill="url(#halo)" filter="url(#hb15)"/>
<circle cx="516.0" cy="535.0" r="3.9" fill="#ffffff" filter="url(#hb05)"/><circle cx="516.0" cy="534.7" r="3.4" fill="none" stroke="#dcdcff" stroke-width="0.8"/><circle cx="516.0" cy="535.2" r="2.3" fill="#ff1010"/>
<rect x="464.07" y="479.67" width="25.46" height="25.46" rx="3.18" transform="rotate(45 476.8 492.4)" fill="url(#haloE)" filter="url(#hb15)"/>
<circle cx="476.8" cy="492.4" r="3.2" fill="none" stroke="#6a6aff" stroke-width="0.9" filter="url(#hb05)"/>
<rect x="546.07" y="479.67" width="25.46" height="25.46" rx="3.18" transform="rotate(45 558.8 492.4)" fill="url(#haloE)" filter="url(#hb15)"/>
<circle cx="558.8" cy="492.4" r="3.2" fill="none" stroke="#6a6aff" stroke-width="0.9" filter="url(#hb05)"/>
<rect x="464.07" y="522.27" width="25.46" height="25.46" rx="3.18" transform="rotate(45 476.8 535.0)" fill="url(#haloE)" filter="url(#hb15)"/>
<circle cx="476.8" cy="535.0" r="3.2" fill="none" stroke="#6a6aff" stroke-width="0.9" filter="url(#hb05)"/>
<rect x="546.07" y="522.27" width="25.46" height="25.46" rx="3.18" transform="rotate(45 558.8 535.0)" fill="url(#haloE)" filter="url(#hb15)"/>
<circle cx="558.8" cy="535.0" r="3.2" fill="none" stroke="#6a6aff" stroke-width="0.9" filter="url(#hb05)"/>
<circle cx="516" cy="464.7" r="3" fill="#ffe8e8"/>
<g filter="url(#hb3)" opacity="0.5"><circle cx="484" cy="457" r="9.0" fill="#0a10f0"/><circle cx="490" cy="462" r="11.5" fill="#0a10f0"/><circle cx="497" cy="470" r="13.0" fill="#0a10f0"/><circle cx="501" cy="479" r="11.0" fill="#0a10f0"/><circle cx="489" cy="472" r="9.5" fill="#0a10f0"/></g>
<g filter="url(#hb1)"><circle cx="484" cy="457" r="5.5" fill="#0a10f0"/><circle cx="490" cy="462" r="8" fill="#0a10f0"/><circle cx="497" cy="470" r="9.5" fill="#0a10f0"/><circle cx="501" cy="479" r="7.5" fill="#0a10f0"/><circle cx="489" cy="472" r="6" fill="#0a10f0"/></g>
<g filter="url(#hb05)"><line x1="494.5" y1="470.5" x2="496.8" y2="474.5" stroke="#f51515" stroke-width="4" stroke-linecap="round"/><circle cx="496.8" cy="474.5" r="5.6" fill="#f51515"/><line x1="494.5" y1="470.5" x2="488.7" y2="466.3" stroke="#f51515" stroke-width="4" stroke-linecap="round"/><circle cx="488.7" cy="466.3" r="3.6" fill="#f51515"/><line x1="494.5" y1="470.5" x2="485.2" y2="459.8" stroke="#f51515" stroke-width="4" stroke-linecap="round"/><circle cx="485.2" cy="459.8" r="2.4" fill="#f51515"/><circle cx="494.5" cy="470.5" r="2.6" fill="#f51515"/></g>
<g filter="url(#hb3)" opacity="0.5"><circle cx="548" cy="457" r="9.0" fill="#0a10f0"/><circle cx="542" cy="462" r="11.5" fill="#0a10f0"/><circle cx="535" cy="470" r="13.0" fill="#0a10f0"/><circle cx="531" cy="479" r="11.0" fill="#0a10f0"/><circle cx="543" cy="472" r="9.5" fill="#0a10f0"/></g>
<g filter="url(#hb1)"><circle cx="548" cy="457" r="5.5" fill="#0a10f0"/><circle cx="542" cy="462" r="8" fill="#0a10f0"/><circle cx="535" cy="470" r="9.5" fill="#0a10f0"/><circle cx="531" cy="479" r="7.5" fill="#0a10f0"/><circle cx="543" cy="472" r="6" fill="#0a10f0"/></g>
<g filter="url(#hb05)"><line x1="537.5" y1="470.5" x2="533.6" y2="474.5" stroke="#f51515" stroke-width="4" stroke-linecap="round"/><circle cx="533.6" cy="474.5" r="5.6" fill="#f51515"/><line x1="537.5" y1="470.5" x2="542.4" y2="465.4" stroke="#f51515" stroke-width="4" stroke-linecap="round"/><circle cx="542.4" cy="465.4" r="3.6" fill="#f51515"/><line x1="537.5" y1="470.5" x2="545.9" y2="459.1" stroke="#f51515" stroke-width="4" stroke-linecap="round"/><circle cx="545.9" cy="459.1" r="2.4" fill="#f51515"/><circle cx="537.5" cy="470.5" r="2.6" fill="#f51515"/></g>
<g filter="url(#hb3)" opacity="0.5"><circle cx="486" cy="510" r="12.5" fill="#0a10f0"/><circle cx="500" cy="508" r="12.5" fill="#0a10f0"/><circle cx="506" cy="515" r="12.5" fill="#0a10f0"/><circle cx="492" cy="522" r="12.5" fill="#0a10f0"/><circle cx="484" cy="520" r="11.0" fill="#0a10f0"/><circle cx="504" cy="523" r="10.5" fill="#0a10f0"/></g>
<g filter="url(#hb1)"><circle cx="486" cy="510" r="9" fill="#0a10f0"/><circle cx="500" cy="508" r="9" fill="#0a10f0"/><circle cx="506" cy="515" r="9" fill="#0a10f0"/><circle cx="492" cy="522" r="9" fill="#0a10f0"/><circle cx="484" cy="520" r="7.5" fill="#0a10f0"/><circle cx="504" cy="523" r="7" fill="#0a10f0"/></g>
<g filter="url(#hb05)"><line x1="488.3" y1="514.6" x2="482.7" y2="514.0" stroke="#f51515" stroke-width="3.4" stroke-linecap="round"/><circle cx="482.7" cy="514.0" r="3.6" fill="#f51515"/><line x1="488.3" y1="514.6" x2="486.4" y2="521.4" stroke="#f51515" stroke-width="3.4" stroke-linecap="round"/><circle cx="486.4" cy="521.4" r="3.6" fill="#f51515"/><line x1="488.3" y1="514.6" x2="492.0" y2="512.2" stroke="#f51515" stroke-width="3.4" stroke-linecap="round"/><circle cx="492.0" cy="512.2" r="2.4" fill="#f51515"/><circle cx="488.3" cy="514.6" r="2.6" fill="#f51515"/><line x1="501.1" y1="514.0" x2="505.4" y2="510.3" stroke="#f51515" stroke-width="3.4" stroke-linecap="round"/><circle cx="505.4" cy="510.3" r="3.6" fill="#f51515"/><line x1="501.1" y1="514.0" x2="503.6" y2="518.9" stroke="#f51515" stroke-width="3.4" stroke-linecap="round"/><circle cx="503.6" cy="518.9" r="3.8" fill="#f51515"/><line x1="501.1" y1="514.0" x2="497.5" y2="512.8" stroke="#f51515" stroke-width="3.4" stroke-linecap="round"/><circle cx="497.5" cy="512.8" r="3.0" fill="#f51515"/><circle cx="501.1" cy="514.0" r="2.6" fill="#f51515"/><circle cx="492.6" cy="505.4" r="3.4" fill="#f51515"/><line x1="492.6" y1="505.4" x2="494" y2="510" stroke="#f51515" stroke-width="2.4"/></g>
<g filter="url(#hb3)" opacity="0.5"><circle cx="526" cy="510" r="12.5" fill="#0a10f0"/><circle cx="540" cy="508" r="12.5" fill="#0a10f0"/><circle cx="546" cy="515" r="12.5" fill="#0a10f0"/><circle cx="530" cy="522" r="12.5" fill="#0a10f0"/><circle cx="524" cy="519" r="10.5" fill="#0a10f0"/><circle cx="545" cy="523" r="11.0" fill="#0a10f0"/><circle cx="552" cy="512" r="9.5" fill="#0a10f0"/></g>
<g filter="url(#hb1)"><circle cx="526" cy="510" r="9" fill="#0a10f0"/><circle cx="540" cy="508" r="9" fill="#0a10f0"/><circle cx="546" cy="515" r="9" fill="#0a10f0"/><circle cx="530" cy="522" r="9" fill="#0a10f0"/><circle cx="524" cy="519" r="7" fill="#0a10f0"/><circle cx="545" cy="523" r="7.5" fill="#0a10f0"/><circle cx="552" cy="512" r="6" fill="#0a10f0"/></g>
<g filter="url(#hb05)"><line x1="529.0" y1="513.0" x2="526.3" y2="509.7" stroke="#f51515" stroke-width="3.4" stroke-linecap="round"/><circle cx="526.3" cy="509.7" r="3.6" fill="#f51515"/><line x1="529.0" y1="513.0" x2="527.5" y2="517.7" stroke="#f51515" stroke-width="3.4" stroke-linecap="round"/><circle cx="527.5" cy="517.7" r="3.6" fill="#f51515"/><line x1="529.0" y1="513.0" x2="533.6" y2="512.2" stroke="#f51515" stroke-width="3.4" stroke-linecap="round"/><circle cx="533.6" cy="512.2" r="3.0" fill="#f51515"/><circle cx="529.0" cy="513.0" r="2.6" fill="#f51515"/><line x1="545.0" y1="516.0" x2="542.8" y2="514.0" stroke="#f51515" stroke-width="3.4" stroke-linecap="round"/><circle cx="542.8" cy="514.0" r="3.6" fill="#f51515"/><line x1="545.0" y1="516.0" x2="544.7" y2="520.8" stroke="#f51515" stroke-width="3.4" stroke-linecap="round"/><circle cx="544.7" cy="520.8" r="3.6" fill="#f51515"/><line x1="545.0" y1="516.0" x2="548.3" y2="514.6" stroke="#f51515" stroke-width="3.4" stroke-linecap="round"/><circle cx="548.3" cy="514.6" r="2.5" fill="#f51515"/><circle cx="545.0" cy="516.0" r="2.6" fill="#f51515"/><circle cx="538.5" cy="505.4" r="2.5" fill="#f51515"/></g>
</g>
<clipPath id="cl571"><rect x="571.2" y="382.9" width="81.69999999999993" height="167.70000000000005"/></clipPath>
<g clip-path="url(#cl571)">
<rect x="571.2" y="382.9" width="81.69999999999993" height="167.70000000000005" fill="#f6f6ff"/>
<ellipse cx="613" cy="422" rx="4" ry="3" fill="#ff6060" opacity="0.5" filter="url(#hb3)"/>
<rect x="560.59" y="444.59" width="21.21" height="21.21" rx="2.65" transform="rotate(45 571.2 455.2)" fill="url(#haloE)" filter="url(#hb15)"/>
<circle cx="571.2" cy="455.2" r="3.2" fill="none" stroke="#6a6aff" stroke-width="0.9" filter="url(#hb05)"/>
<rect x="642.29" y="444.59" width="21.21" height="21.21" rx="2.65" transform="rotate(45 652.9 455.2)" fill="url(#haloE)" filter="url(#hb15)"/>
<circle cx="652.9" cy="455.2" r="3.2" fill="none" stroke="#6a6aff" stroke-width="0.9" filter="url(#hb05)"/>
<g filter="url(#hb3)" opacity="0.45"><circle cx="591" cy="416" r="11.0" fill="#0a10f0"/><circle cx="601" cy="413" r="11.5" fill="#0a10f0"/><circle cx="606" cy="422" r="10.5" fill="#0a10f0"/><circle cx="596" cy="427" r="9.5" fill="#0a10f0"/><circle cx="612" cy="432" r="10.5" fill="#0a10f0"/><circle cx="609" cy="443" r="11.5" fill="#0a10f0"/><circle cx="606" cy="451" r="9.0" fill="#0a10f0"/><circle cx="602" cy="437" r="8.5" fill="#0a10f0"/></g>
<g filter="url(#hb1)"><circle cx="591" cy="416" r="8.5" fill="#0a10f0"/><circle cx="601" cy="413" r="9" fill="#0a10f0"/><circle cx="606" cy="422" r="8" fill="#0a10f0"/><circle cx="596" cy="427" r="7" fill="#0a10f0"/><circle cx="612" cy="432" r="8" fill="#0a10f0"/><circle cx="609" cy="443" r="9" fill="#0a10f0"/><circle cx="606" cy="451" r="6.5" fill="#0a10f0"/><circle cx="602" cy="437" r="6" fill="#0a10f0"/></g>
<g filter="url(#hb05)"><circle cx="598.2" cy="414.7" r="3.5" fill="#f51515"/><circle cx="592.4" cy="419.0" r="4.0" fill="#f51515"/><circle cx="596.5" cy="421.5" r="3.0" fill="#f51515"/><circle cx="601.1" cy="423.6" r="3.3" fill="#f51515"/><circle cx="605.5" cy="426.0" r="3.2" fill="#f51515"/><circle cx="611.9" cy="422.6" r="2.5" fill="#f51515"/><circle cx="611.2" cy="429.9" r="3.0" fill="#f51515"/><circle cx="598.9" cy="430.6" r="3.5" fill="#f51515"/><circle cx="594.6" cy="436.4" r="4.0" fill="#f51515"/><circle cx="604.7" cy="440.7" r="4.0" fill="#f51515"/><circle cx="609.0" cy="437.8" r="4.0" fill="#f51515"/><circle cx="606.1" cy="445.1" r="4.0" fill="#f51515"/></g>
<circle cx="617.7" cy="435.7" r="1.6" fill="#f8f8ff"/><circle cx="609" cy="455.2" r="1.6" fill="#ff4040"/>
<circle cx="609" cy="460.5" r="1.3" fill="#ff8080"/>
<rect x="598.67" y="487.07" width="25.46" height="25.46" rx="3.18" transform="rotate(45 611.4 499.8)" fill="url(#halo)" filter="url(#hb15)"/>
<circle cx="611.4" cy="499.8" r="3.9" fill="#ffffff" filter="url(#hb05)"/><circle cx="611.4" cy="499.5" r="3.4" fill="none" stroke="#dcdcff" stroke-width="0.8"/><circle cx="611.4" cy="500.0" r="2.3" fill="#ff1010"/>
<rect x="598.67" y="526.87" width="25.46" height="25.46" rx="3.18" transform="rotate(45 611.4 539.6)" fill="url(#halo)" filter="url(#hb15)"/>
<circle cx="611.4" cy="539.6" r="3.9" fill="#ffffff" filter="url(#hb05)"/><circle cx="611.4" cy="539.3000000000001" r="3.4" fill="none" stroke="#dcdcff" stroke-width="0.8"/><circle cx="611.4" cy="539.8000000000001" r="2.3" fill="#ff1010"/>
<rect x="558.47" y="487.07" width="25.46" height="25.46" rx="3.18" transform="rotate(45 571.2 499.8)" fill="url(#haloE)" filter="url(#hb15)"/>
<circle cx="571.2" cy="499.8" r="3.2" fill="none" stroke="#6a6aff" stroke-width="0.9" filter="url(#hb05)"/>
<rect x="640.17" y="487.07" width="25.46" height="25.46" rx="3.18" transform="rotate(45 652.9 499.8)" fill="url(#haloE)" filter="url(#hb15)"/>
<circle cx="652.9" cy="499.8" r="3.2" fill="none" stroke="#6a6aff" stroke-width="0.9" filter="url(#hb05)"/>
<rect x="558.47" y="526.87" width="25.46" height="25.46" rx="3.18" transform="rotate(45 571.2 539.6)" fill="url(#haloE)" filter="url(#hb15)"/>
<circle cx="571.2" cy="539.6" r="3.2" fill="none" stroke="#6a6aff" stroke-width="0.9" filter="url(#hb05)"/>
<rect x="640.17" y="526.87" width="25.46" height="25.46" rx="3.18" transform="rotate(45 652.9 539.6)" fill="url(#haloE)" filter="url(#hb15)"/>
<circle cx="652.9" cy="539.6" r="3.2" fill="none" stroke="#6a6aff" stroke-width="0.9" filter="url(#hb05)"/>
<g filter="url(#hb3)" opacity="0.5"><circle cx="582" cy="470" r="10.5" fill="#0a10f0"/><circle cx="592" cy="469" r="10.5" fill="#0a10f0"/><circle cx="588" cy="476" r="11.5" fill="#0a10f0"/><circle cx="596" cy="482" r="11.5" fill="#0a10f0"/><circle cx="598" cy="487" r="9.5" fill="#0a10f0"/></g>
<g filter="url(#hb1)"><circle cx="582" cy="470" r="7" fill="#0a10f0"/><circle cx="592" cy="469" r="7" fill="#0a10f0"/><circle cx="588" cy="476" r="8" fill="#0a10f0"/><circle cx="596" cy="482" r="8" fill="#0a10f0"/><circle cx="598" cy="487" r="6" fill="#0a10f0"/></g>
<g filter="url(#hb05)"><line x1="581.4" y1="476.5" x2="589.4" y2="474.6" stroke="#f51515" stroke-width="6" stroke-linecap="round"/><line x1="592.5" y1="479.5" x2="595.5" y2="477.7" stroke="#f51515" stroke-width="4" stroke-linecap="round"/><circle cx="595.5" cy="477.7" r="4.0" fill="#f51515"/><line x1="592.5" y1="479.5" x2="594.9" y2="485.0" stroke="#f51515" stroke-width="4" stroke-linecap="round"/><circle cx="594.9" cy="485.0" r="4.0" fill="#f51515"/><line x1="592.5" y1="479.5" x2="589.4" y2="474.6" stroke="#f51515" stroke-width="4" stroke-linecap="round"/><circle cx="589.4" cy="474.6" r="3.0" fill="#f51515"/><circle cx="592.5" cy="479.5" r="2.6" fill="#f51515"/></g>
<circle cx="591.2" cy="469.1" r="1.4" fill="#f0f0ff"/>
<g filter="url(#hb3)" opacity="0.5"><circle cx="624" cy="472" r="11.5" fill="#0a10f0"/><circle cx="636" cy="469" r="11.5" fill="#0a10f0"/><circle cx="645" cy="472" r="11.0" fill="#0a10f0"/><circle cx="627" cy="484" r="12.5" fill="#0a10f0"/><circle cx="640" cy="483" r="12.5" fill="#0a10f0"/><circle cx="633" cy="477" r="12.5" fill="#0a10f0"/></g>
<g filter="url(#hb1)"><circle cx="624" cy="472" r="8" fill="#0a10f0"/><circle cx="636" cy="469" r="8" fill="#0a10f0"/><circle cx="645" cy="472" r="7.5" fill="#0a10f0"/><circle cx="627" cy="484" r="9" fill="#0a10f0"/><circle cx="640" cy="483" r="9" fill="#0a10f0"/><circle cx="633" cy="477" r="9" fill="#0a10f0"/></g>
<g filter="url(#hb05)"><circle cx="631.1" cy="469.1" r="3.0" fill="#f51515"/><line x1="628.0" y1="479.0" x2="623.7" y2="479.5" stroke="#f51515" stroke-width="3.4" stroke-linecap="round"/><circle cx="623.7" cy="479.5" r="3.6" fill="#f51515"/><line x1="628.0" y1="479.0" x2="627.4" y2="484.8" stroke="#f51515" stroke-width="3.4" stroke-linecap="round"/><circle cx="627.4" cy="484.8" r="3.8" fill="#f51515"/><line x1="628.0" y1="479.0" x2="631.0" y2="477.0" stroke="#f51515" stroke-width="3.4" stroke-linecap="round"/><circle cx="631.0" cy="477.0" r="2.6" fill="#f51515"/><circle cx="628.0" cy="479.0" r="2.6" fill="#f51515"/><line x1="640.5" y1="477.0" x2="637.8" y2="475.8" stroke="#f51515" stroke-width="3.4" stroke-linecap="round"/><circle cx="637.8" cy="475.8" r="3.2" fill="#f51515"/><line x1="640.5" y1="477.0" x2="644.0" y2="473.4" stroke="#f51515" stroke-width="3.4" stroke-linecap="round"/><circle cx="644.0" cy="473.4" r="3.5" fill="#f51515"/><line x1="640.5" y1="477.0" x2="642.1" y2="481.6" stroke="#f51515" stroke-width="3.4" stroke-linecap="round"/><circle cx="642.1" cy="481.6" r="3.8" fill="#f51515"/><circle cx="640.5" cy="477.0" r="2.6" fill="#f51515"/></g>
<g filter="url(#hb3)" opacity="0.5"><circle cx="581" cy="514" r="12.5" fill="#0a10f0"/><circle cx="595" cy="511" r="12.5" fill="#0a10f0"/><circle cx="604" cy="517" r="11.5" fill="#0a10f0"/><circle cx="584" cy="527" r="12.0" fill="#0a10f0"/><circle cx="598" cy="527" r="12.0" fill="#0a10f0"/><circle cx="576" cy="520" r="9.5" fill="#0a10f0"/></g>
<g filter="url(#hb1)"><circle cx="581" cy="514" r="9" fill="#0a10f0"/><circle cx="595" cy="511" r="9" fill="#0a10f0"/><circle cx="604" cy="517" r="8" fill="#0a10f0"/><circle cx="584" cy="527" r="8.5" fill="#0a10f0"/><circle cx="598" cy="527" r="8.5" fill="#0a10f0"/><circle cx="576" cy="520" r="6" fill="#0a10f0"/></g>
<g filter="url(#hb05)"><line x1="586.3" y1="519.6" x2="579.0" y2="519.6" stroke="#f51515" stroke-width="3.4" stroke-linecap="round"/><circle cx="579.0" cy="519.6" r="3.8" fill="#f51515"/><line x1="586.3" y1="519.6" x2="583.9" y2="526.4" stroke="#f51515" stroke-width="3.4" stroke-linecap="round"/><circle cx="583.9" cy="526.4" r="3.8" fill="#f51515"/><line x1="586.3" y1="519.6" x2="590.0" y2="511.6" stroke="#f51515" stroke-width="3.4" stroke-linecap="round"/><circle cx="590.0" cy="511.6" r="4.0" fill="#f51515"/><circle cx="586.3" cy="519.6" r="2.6" fill="#f51515"/><line x1="595.0" y1="519.0" x2="601.7" y2="517.2" stroke="#f51515" stroke-width="3.4" stroke-linecap="round"/><circle cx="601.7" cy="517.2" r="3.8" fill="#f51515"/><line x1="595.0" y1="519.0" x2="599.2" y2="525.1" stroke="#f51515" stroke-width="3.4" stroke-linecap="round"/><circle cx="599.2" cy="525.1" r="3.8" fill="#f51515"/><line x1="595.0" y1="519.0" x2="590.0" y2="511.6" stroke="#f51515" stroke-width="3.4" stroke-linecap="round"/><circle cx="590.0" cy="511.6" r="2.5" fill="#f51515"/><circle cx="595.0" cy="519.0" r="2.6" fill="#f51515"/></g>
<g filter="url(#hb3)" opacity="0.5"><circle cx="620" cy="514" r="12.5" fill="#0a10f0"/><circle cx="634" cy="511" r="12.5" fill="#0a10f0"/><circle cx="646" cy="516" r="11.5" fill="#0a10f0"/><circle cx="624" cy="527" r="12.0" fill="#0a10f0"/><circle cx="640" cy="527" r="12.0" fill="#0a10f0"/></g>
<g filter="url(#hb1)"><circle cx="620" cy="514" r="9" fill="#0a10f0"/><circle cx="634" cy="511" r="9" fill="#0a10f0"/><circle cx="646" cy="516" r="8" fill="#0a10f0"/><circle cx="624" cy="527" r="8.5" fill="#0a10f0"/><circle cx="640" cy="527" r="8.5" fill="#0a10f0"/></g>
<g filter="url(#hb05)"><line x1="626.2" y1="519.6" x2="621.3" y2="517.2" stroke="#f51515" stroke-width="3.4" stroke-linecap="round"/><circle cx="621.3" cy="517.2" r="3.8" fill="#f51515"/><line x1="626.2" y1="519.6" x2="623.7" y2="525.1" stroke="#f51515" stroke-width="3.4" stroke-linecap="round"/><circle cx="623.7" cy="525.1" r="3.8" fill="#f51515"/><line x1="626.2" y1="519.6" x2="632.9" y2="511.6" stroke="#f51515" stroke-width="3.4" stroke-linecap="round"/><circle cx="632.9" cy="511.6" r="4.0" fill="#f51515"/><circle cx="626.2" cy="519.6" r="2.6" fill="#f51515"/><line x1="637.5" y1="520.0" x2="643.3" y2="519.6" stroke="#f51515" stroke-width="3.4" stroke-linecap="round"/><circle cx="643.3" cy="519.6" r="3.8" fill="#f51515"/><line x1="637.5" y1="520.0" x2="639.0" y2="526.4" stroke="#f51515" stroke-width="3.4" stroke-linecap="round"/><circle cx="639.0" cy="526.4" r="3.8" fill="#f51515"/><line x1="637.5" y1="520.0" x2="633.5" y2="514.5" stroke="#f51515" stroke-width="3.4" stroke-linecap="round"/><circle cx="633.5" cy="514.5" r="2.6" fill="#f51515"/><circle cx="637.5" cy="520.0" r="2.6" fill="#f51515"/></g>
</g>
<text x="464.40" y="393.40" font-size="14.2" font-weight="bold" fill="#000" text-anchor="start" >h</text>
<text x="564.00" y="394.00" font-size="14.2" font-weight="bold" fill="#000" text-anchor="start" >i</text>
<text x="494.40" y="423.40" font-size="6.6" font-weight="bold" fill="#000" text-anchor="end" >-0.590 N</text>
<text x="494.40" y="437.80" font-size="6.6" font-weight="bold" fill="#000" text-anchor="end" >0.540 S</text>
<text x="498.20" y="448.20" font-size="6.6" font-weight="bold" fill="#000" text-anchor="end" >-0.830 N</text>
<text x="530.20" y="423.40" font-size="6.6" font-weight="bold" fill="#000" text-anchor="start" >N -0.440</text>
<text x="601.80" y="411.90" font-size="6.6" font-weight="bold" fill="#000" text-anchor="start" >-0.622 N</text>
<text x="615.50" y="424.40" font-size="6.6" font-weight="bold" fill="#000" text-anchor="start" >-0.202 N</text>
<text x="589.50" y="444.80" font-size="6.6" font-weight="bold" fill="#000" text-anchor="end" >0.416 S</text>
<text x="617.60" y="445.40" font-size="6.6" font-weight="bold" fill="#000" text-anchor="start" >-0.554 N</text>
<linearGradient id="cbI" x1="0" y1="0" x2="0" y2="1"><stop offset="0" stop-color="#f01010"/><stop offset="0.25" stop-color="#f46060"/><stop offset="0.5" stop-color="#ffffff"/><stop offset="0.75" stop-color="#6060f4"/><stop offset="1" stop-color="#1010e0"/></linearGradient>
<rect x="666.6" y="444.5" width="2.8" height="81" rx="1.2" fill="url(#cbI)"/>
<text x="667.00" y="440.00" font-size="10.2" font-weight="bold" fill="#000" text-anchor="middle" >0.9 eV</text>
<text x="667.00" y="555.60" font-size="10.2" font-weight="bold" fill="#000" text-anchor="middle" >-0.3 eV</text>
<line x1="658.00" y1="537.50" x2="664.00" y2="537.50" stroke="#40c040" stroke-width="0.7" />
<line x1="664.00" y1="537.50" x2="664.00" y2="531.00" stroke="#d040d0" stroke-width="0.7" />
</svg></body></html>
